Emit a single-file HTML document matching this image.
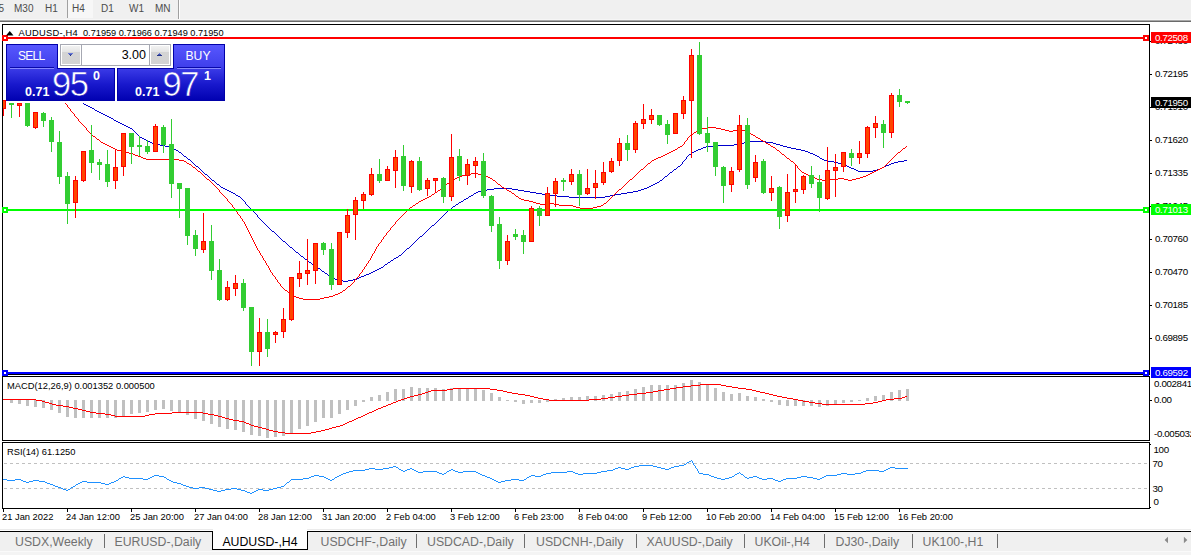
<!DOCTYPE html>
<html><head><meta charset="utf-8"><title>AUDUSD-,H4</title>
<style>
html,body{margin:0;padding:0;background:#fff;}
#root{position:relative;width:1191px;height:555px;overflow:hidden;background:#fff;font-family:"Liberation Sans",sans-serif;}
#root div{position:absolute;white-space:nowrap;}
.t{font-size:9.33px;line-height:11px;color:#000;}
.ax{font-size:9.75px;letter-spacing:-0.36px;}
.lab{left:1151px;width:40px;height:11px;font-size:9.75px;letter-spacing:-0.36px;line-height:11.4px;color:#fff;text-indent:4px;overflow:hidden;}
#tb{left:0;top:0;width:1191px;height:20px;background:#f0f0f0;}
.tf{font-size:10px;line-height:12px;top:2.5px;color:#4c4c4c;}
#tabbar{left:0;top:532px;width:1191px;height:23px;background:#f0f0f0;}
.tab{top:3px;font-size:12.3px;line-height:15px;color:#707070;}
.sep{top:2px;width:1px;height:14px;background:#6e6e6e;}
.pn{color:#fff;}
</style></head><body>
<div id="root">
<div id="tb">
 <div style="left:67px;top:0;width:25px;height:18px;background:#f7f7f7;border-left:1px solid #a0a0a0;"></div>
 <div class="tf" style="left:-1.5px">5</div>
 <div class="tf" style="left:14px">M30</div>
 <div class="tf" style="left:45px">H1</div>
 <div class="tf" style="left:72px">H4</div>
 <div class="tf" style="left:101px">D1</div>
 <div class="tf" style="left:129px">W1</div>
 <div class="tf" style="left:155px">MN</div>
 <div style="left:178px;top:0;width:1px;height:19px;background:#a0a0a0"></div>
 <div style="left:179px;top:0;width:1px;height:19px;background:#fff"></div>
</div>
<div style="left:0;top:19px;width:1191px;height:1px;background:#f6f6f6"></div>
<div style="left:0;top:20px;width:1191px;height:1px;background:#a8a8a8"></div>
<div style="left:0;top:21px;width:1191px;height:1px;background:#6a6a6a"></div>
<svg width="1191" height="555" viewBox="0 0 1191 555" style="position:absolute;left:0;top:0">
<defs><clipPath id="cp"><rect x="3" y="25" width="1146" height="349"/></clipPath></defs><g clip-path="url(#cp)">
<path d="M83 103.5h1M84 104.5h2M86 105.5h2M88 106.5h2M90 107.5h2M92 108.5h2M94 109.5h1M95 110.5h2M97 111.5h2M99 112.5h2M101 113.5h2M103 114.5h2M105 115.5h2M107 116.5h2M109 117.5h2M111 118.5h2M113 119.5h1M114 120.5h2M116 121.5h2M118 122.5h2M120 123.5h2M122 124.5h2M124 125.5h2M126 126.5h2M128 127.5h2M130 128.5h2M132 129.5h1M133 130.5h1M134 131.5h1M135 132.5h1M136 133.5h1M137 134.5h1M138 135.5h1M139 136.5h1M140 137.5h2M142 138.5h2M144 139.5h2M146 140.5h2M148 141.5h2M749 141.5h17M150 142.5h2M744 142.5h5M766 142.5h7M152 143.5h4M739 143.5h5M773 143.5h3M156 144.5h4M734 144.5h5M776 144.5h4M160 145.5h5M713 145.5h21M780 145.5h3M165 146.5h4M706 146.5h7M783 146.5h4M169 147.5h2M703 147.5h3M787 147.5h4M171 148.5h3M701 148.5h2M791 148.5h5M174 149.5h2M698 149.5h3M796 149.5h5M176 150.5h2M696 150.5h2M801 150.5h4M178 151.5h1M694 151.5h2M805 151.5h3M179 152.5h2M692 152.5h2M808 152.5h2M181 153.5h1M691 153.5h1M810 153.5h3M182 154.5h1M689 154.5h2M813 154.5h2M183 155.5h1M688 155.5h1M815 155.5h2M184 156.5h2M687 156.5h1M817 156.5h2M186 157.5h1M686 157.5h1M819 157.5h1M187 158.5h1M686 158.5h1M820 158.5h2M188 159.5h2M685 159.5h1M822 159.5h2M190 160.5h1M684 160.5h1M824 160.5h4M904 160.5h3M191 161.5h1M683 161.5h1M828 161.5h6M898 161.5h6M192 162.5h1M682 162.5h1M834 162.5h4M894 162.5h4M193 163.5h1M682 163.5h1M838 163.5h4M891 163.5h3M194 164.5h1M681 164.5h1M842 164.5h3M889 164.5h2M195 165.5h1M680 165.5h1M845 165.5h2M886 165.5h3M196 166.5h2M678 166.5h2M847 166.5h2M884 166.5h2M198 167.5h1M677 167.5h1M849 167.5h2M882 167.5h2M199 168.5h1M676 168.5h1M851 168.5h3M880 168.5h2M200 169.5h1M674 169.5h2M854 169.5h2M877 169.5h3M201 170.5h1M673 170.5h1M856 170.5h2M873 170.5h4M202 171.5h1M672 171.5h1M858 171.5h15M203 172.5h1M670 172.5h2M204 173.5h1M669 173.5h1M205 174.5h2M668 174.5h1M207 175.5h1M667 175.5h1M208 176.5h1M665 176.5h2M209 177.5h1M664 177.5h1M210 178.5h1M663 178.5h1M211 179.5h1M662 179.5h1M212 180.5h2M660 180.5h2M214 181.5h1M659 181.5h1M215 182.5h1M657 182.5h2M216 183.5h1M655 183.5h2M217 184.5h2M653 184.5h2M219 185.5h1M651 185.5h2M220 186.5h1M649 186.5h2M221 187.5h2M647 187.5h2M223 188.5h2M494 188.5h18M644 188.5h3M225 189.5h2M487 189.5h7M512 189.5h6M641 189.5h3M227 190.5h2M481 190.5h6M518 190.5h6M638 190.5h3M229 191.5h2M478 191.5h3M524 191.5h6M633 191.5h5M231 192.5h2M476 192.5h2M530 192.5h6M627 192.5h6M233 193.5h2M474 193.5h2M536 193.5h6M621 193.5h6M235 194.5h1M473 194.5h1M542 194.5h7M615 194.5h6M236 195.5h2M471 195.5h2M549 195.5h8M610 195.5h5M238 196.5h2M469 196.5h2M557 196.5h12M605 196.5h5M240 197.5h1M468 197.5h1M569 197.5h36M241 198.5h1M466 198.5h2M242 199.5h1M464 199.5h2M243 200.5h1M463 200.5h1M244 201.5h1M461 201.5h2M245 202.5h1M459 202.5h2M245 203.5h1M458 203.5h1M246 204.5h1M456 204.5h2M247 205.5h1M455 205.5h1M248 206.5h1M453 206.5h2M249 207.5h1M452 207.5h1M250 208.5h1M451 208.5h1M251 209.5h1M449 209.5h2M252 210.5h1M448 210.5h1M253 211.5h1M447 211.5h1M254 212.5h1M446 212.5h1M255 213.5h1M445 213.5h1M256 214.5h1M444 214.5h1M257 215.5h1M443 215.5h1M257 216.5h1M442 216.5h1M258 217.5h1M441 217.5h1M259 218.5h1M440 218.5h1M260 219.5h1M439 219.5h1M261 220.5h1M438 220.5h1M262 221.5h1M437 221.5h1M263 222.5h1M436 222.5h1M264 223.5h1M435 223.5h1M265 224.5h1M434 224.5h1M266 225.5h1M432 225.5h2M267 226.5h1M431 226.5h1M268 227.5h1M430 227.5h1M269 228.5h1M429 228.5h1M270 229.5h1M428 229.5h1M271 230.5h1M427 230.5h1M272 231.5h2M426 231.5h1M274 232.5h1M425 232.5h1M275 233.5h1M424 233.5h1M276 234.5h1M423 234.5h1M277 235.5h1M422 235.5h1M278 236.5h1M420 236.5h2M279 237.5h1M419 237.5h1M280 238.5h1M418 238.5h1M281 239.5h1M417 239.5h1M282 240.5h1M416 240.5h1M283 241.5h2M415 241.5h1M285 242.5h1M414 242.5h1M286 243.5h1M413 243.5h1M287 244.5h1M412 244.5h1M288 245.5h1M411 245.5h1M289 246.5h1M410 246.5h1M290 247.5h2M409 247.5h1M292 248.5h1M407 248.5h2M293 249.5h1M406 249.5h1M294 250.5h1M405 250.5h1M295 251.5h1M404 251.5h1M296 252.5h2M403 252.5h1M298 253.5h1M402 253.5h1M299 254.5h1M401 254.5h1M300 255.5h1M399 255.5h2M301 256.5h2M398 256.5h1M303 257.5h1M396 257.5h2M304 258.5h1M394 258.5h2M305 259.5h2M393 259.5h1M307 260.5h1M391 260.5h2M308 261.5h1M390 261.5h1M309 262.5h2M388 262.5h2M311 263.5h1M387 263.5h1M312 264.5h2M385 264.5h2M314 265.5h1M384 265.5h1M315 266.5h2M383 266.5h1M317 267.5h1M381 267.5h2M318 268.5h2M379 268.5h2M320 269.5h1M377 269.5h2M321 270.5h1M375 270.5h2M322 271.5h2M373 271.5h2M324 272.5h1M371 272.5h2M325 273.5h2M369 273.5h2M327 274.5h1M366 274.5h3M328 275.5h2M364 275.5h2M330 276.5h1M361 276.5h3M331 277.5h2M359 277.5h2M333 278.5h2M357 278.5h2M335 279.5h3M353 279.5h4M338 280.5h5M348 280.5h5M343 281.5h5" fill="none" stroke="#0000cd" stroke-width="1" shape-rendering="crispEdges"/>
<path d="M65 103.5h1M66 104.5h1M67 105.5h1M67 106.5h1M68 107.5h1M69 108.5h1M70 109.5h1M70 110.5h1M71 111.5h1M72 112.5h1M73 113.5h1M74 114.5h1M74 115.5h1M75 116.5h1M76 117.5h1M77 118.5h1M78 119.5h1M78 120.5h1M79 121.5h1M80 122.5h1M81 123.5h1M82 124.5h1M83 125.5h1M84 126.5h1M85 127.5h1M708 127.5h8M86 128.5h1M702 128.5h6M716 128.5h5M86 129.5h1M700 129.5h2M721 129.5h4M737 129.5h4M87 130.5h1M698 130.5h2M725 130.5h4M733 130.5h4M741 130.5h4M88 131.5h1M696 131.5h2M729 131.5h4M745 131.5h3M89 132.5h1M694 132.5h2M748 132.5h2M90 133.5h1M693 133.5h1M750 133.5h1M91 134.5h1M691 134.5h2M751 134.5h2M92 135.5h1M690 135.5h1M753 135.5h2M93 136.5h2M689 136.5h1M755 136.5h1M95 137.5h1M688 137.5h1M756 137.5h2M96 138.5h1M687 138.5h1M758 138.5h2M97 139.5h2M687 139.5h1M760 139.5h1M99 140.5h1M686 140.5h1M761 140.5h2M100 141.5h1M685 141.5h1M763 141.5h2M101 142.5h2M684 142.5h1M765 142.5h1M103 143.5h2M684 143.5h1M766 143.5h2M105 144.5h2M683 144.5h1M768 144.5h2M107 145.5h2M682 145.5h1M770 145.5h1M109 146.5h2M680 146.5h2M771 146.5h2M906 146.5h1M111 147.5h2M678 147.5h2M773 147.5h2M905 147.5h1M113 148.5h2M677 148.5h1M775 148.5h1M903 148.5h2M115 149.5h2M675 149.5h2M776 149.5h1M902 149.5h1M117 150.5h4M673 150.5h2M777 150.5h2M901 150.5h1M121 151.5h4M671 151.5h2M779 151.5h1M900 151.5h1M125 152.5h4M669 152.5h2M780 152.5h1M898 152.5h2M129 153.5h4M667 153.5h2M781 153.5h1M897 153.5h1M133 154.5h2M665 154.5h2M782 154.5h2M896 154.5h1M135 155.5h3M663 155.5h2M784 155.5h1M895 155.5h1M138 156.5h3M661 156.5h2M785 156.5h1M894 156.5h1M141 157.5h2M658 157.5h3M786 157.5h1M893 157.5h1M143 158.5h3M656 158.5h2M787 158.5h2M892 158.5h1M146 159.5h33M654 159.5h2M789 159.5h1M891 159.5h1M179 160.5h5M652 160.5h2M790 160.5h1M890 160.5h1M184 161.5h2M651 161.5h1M791 161.5h2M889 161.5h1M186 162.5h1M650 162.5h1M793 162.5h1M888 162.5h1M187 163.5h2M648 163.5h2M794 163.5h1M887 163.5h1M189 164.5h2M647 164.5h1M795 164.5h1M886 164.5h1M191 165.5h1M646 165.5h1M796 165.5h1M885 165.5h1M192 166.5h1M645 166.5h1M797 166.5h1M884 166.5h1M193 167.5h2M644 167.5h1M797 167.5h1M882 167.5h2M195 168.5h1M643 168.5h1M798 168.5h1M880 168.5h2M196 169.5h1M641 169.5h2M799 169.5h1M878 169.5h2M197 170.5h1M640 170.5h1M800 170.5h1M876 170.5h2M198 171.5h2M639 171.5h1M801 171.5h1M874 171.5h2M200 172.5h1M638 172.5h1M802 172.5h2M872 172.5h2M201 173.5h1M471 173.5h7M637 173.5h1M804 173.5h2M870 173.5h2M202 174.5h1M466 174.5h5M478 174.5h6M636 174.5h1M806 174.5h2M868 174.5h2M203 175.5h1M462 175.5h4M484 175.5h2M635 175.5h1M808 175.5h3M866 175.5h2M204 176.5h1M459 176.5h3M486 176.5h2M634 176.5h1M811 176.5h2M863 176.5h3M205 177.5h1M457 177.5h2M488 177.5h2M633 177.5h1M813 177.5h2M860 177.5h3M206 178.5h1M455 178.5h2M490 178.5h2M632 178.5h1M815 178.5h2M838 178.5h6M856 178.5h4M207 179.5h2M453 179.5h2M492 179.5h1M630 179.5h2M817 179.5h5M830 179.5h8M844 179.5h4M852 179.5h4M209 180.5h1M451 180.5h2M493 180.5h2M629 180.5h1M822 180.5h8M848 180.5h4M210 181.5h1M450 181.5h1M495 181.5h1M628 181.5h1M211 182.5h1M449 182.5h1M496 182.5h1M627 182.5h1M212 183.5h1M447 183.5h2M497 183.5h1M626 183.5h1M213 184.5h1M446 184.5h1M498 184.5h2M625 184.5h1M214 185.5h1M445 185.5h1M500 185.5h1M624 185.5h1M215 186.5h1M444 186.5h1M501 186.5h1M623 186.5h1M216 187.5h1M442 187.5h2M502 187.5h2M622 187.5h1M217 188.5h1M441 188.5h1M504 188.5h2M621 188.5h1M218 189.5h1M440 189.5h1M506 189.5h1M619 189.5h2M219 190.5h1M438 190.5h2M507 190.5h2M618 190.5h1M219 191.5h1M437 191.5h1M509 191.5h2M617 191.5h1M220 192.5h1M435 192.5h2M511 192.5h1M616 192.5h1M221 193.5h1M434 193.5h1M512 193.5h2M615 193.5h1M222 194.5h1M432 194.5h2M514 194.5h1M614 194.5h1M223 195.5h1M431 195.5h1M515 195.5h1M613 195.5h1M224 196.5h1M429 196.5h2M516 196.5h2M612 196.5h1M225 197.5h1M427 197.5h2M518 197.5h1M611 197.5h1M226 198.5h1M425 198.5h2M519 198.5h2M610 198.5h1M227 199.5h1M423 199.5h2M521 199.5h3M609 199.5h1M227 200.5h1M421 200.5h2M524 200.5h5M608 200.5h1M228 201.5h1M419 201.5h2M529 201.5h4M607 201.5h1M229 202.5h1M418 202.5h1M533 202.5h3M606 202.5h1M230 203.5h1M416 203.5h2M536 203.5h4M546 203.5h8M604 203.5h2M231 204.5h1M415 204.5h1M540 204.5h6M554 204.5h5M603 204.5h1M232 205.5h1M413 205.5h2M559 205.5h14M601 205.5h2M232 206.5h1M412 206.5h1M573 206.5h3M597 206.5h4M233 207.5h1M410 207.5h2M576 207.5h4M593 207.5h4M234 208.5h1M409 208.5h1M580 208.5h13M235 209.5h1M408 209.5h1M235 210.5h1M407 210.5h1M236 211.5h1M406 211.5h1M237 212.5h1M405 212.5h1M237 213.5h1M404 213.5h1M238 214.5h1M403 214.5h1M239 215.5h1M402 215.5h1M240 216.5h1M401 216.5h1M240 217.5h1M400 217.5h1M241 218.5h1M399 218.5h1M242 219.5h1M398 219.5h1M242 220.5h1M397 220.5h1M243 221.5h1M396 221.5h1M244 222.5h1M395 222.5h1M244 223.5h1M395 223.5h1M245 224.5h1M394 224.5h1M245 225.5h1M393 225.5h1M246 226.5h1M392 226.5h1M246 227.5h1M391 227.5h1M247 228.5h1M390 228.5h1M247 229.5h1M390 229.5h1M248 230.5h1M389 230.5h1M248 231.5h1M388 231.5h1M249 232.5h1M387 232.5h1M249 233.5h1M386 233.5h1M250 234.5h1M386 234.5h1M250 235.5h1M385 235.5h1M251 236.5h1M384 236.5h1M251 237.5h1M383 237.5h1M252 238.5h1M383 238.5h1M252 239.5h1M382 239.5h1M253 240.5h1M381 240.5h1M253 241.5h1M381 241.5h1M254 242.5h1M380 242.5h1M254 243.5h1M379 243.5h1M255 244.5h1M378 244.5h1M255 245.5h1M378 245.5h1M256 246.5h1M377 246.5h1M256 247.5h1M376 247.5h1M257 248.5h1M376 248.5h1M257 249.5h1M375 249.5h1M258 250.5h1M375 250.5h1M259 251.5h1M374 251.5h1M259 252.5h1M374 252.5h1M260 253.5h1M373 253.5h1M260 254.5h1M372 254.5h1M261 255.5h1M372 255.5h1M262 256.5h1M371 256.5h1M262 257.5h1M371 257.5h1M263 258.5h1M370 258.5h1M263 259.5h1M370 259.5h1M264 260.5h1M369 260.5h1M265 261.5h1M368 261.5h1M265 262.5h1M368 262.5h1M266 263.5h1M367 263.5h1M266 264.5h1M366 264.5h1M267 265.5h1M366 265.5h1M268 266.5h1M365 266.5h1M268 267.5h1M364 267.5h1M269 268.5h1M364 268.5h1M269 269.5h1M363 269.5h1M270 270.5h1M362 270.5h1M270 271.5h1M362 271.5h1M271 272.5h1M361 272.5h1M272 273.5h1M360 273.5h1M272 274.5h1M359 274.5h1M273 275.5h1M359 275.5h1M274 276.5h1M358 276.5h1M275 277.5h1M357 277.5h1M275 278.5h1M356 278.5h1M276 279.5h1M355 279.5h1M277 280.5h1M354 280.5h1M277 281.5h1M354 281.5h1M278 282.5h1M353 282.5h1M279 283.5h1M352 283.5h1M280 284.5h1M351 284.5h1M280 285.5h1M350 285.5h1M281 286.5h1M348 286.5h2M282 287.5h1M347 287.5h1M283 288.5h1M346 288.5h1M284 289.5h1M345 289.5h1M285 290.5h2M343 290.5h2M287 291.5h1M342 291.5h1M288 292.5h1M340 292.5h2M289 293.5h1M338 293.5h2M290 294.5h2M335 294.5h3M292 295.5h2M333 295.5h2M294 296.5h2M329 296.5h4M296 297.5h3M324 297.5h5M299 298.5h4M320 298.5h4M303 299.5h17" fill="none" stroke="#ff0000" stroke-width="1" shape-rendering="crispEdges"/>
<g shape-rendering="crispEdges">
<rect x="3" y="37" width="1146" height="2" fill="#ff0000"/>
<rect x="3" y="209" width="1146" height="2" fill="#00ff00"/>
<rect x="3" y="372" width="1146" height="2" fill="#0000ff"/>
<rect x="3" y="100" width="1" height="16" fill="#ff0000"/>
<rect x="1" y="100" width="5" height="9" fill="#ff0000"/>
<rect x="2" y="101" width="3" height="7" fill="#ff4500"/>
<rect x="11" y="103" width="1" height="15" fill="#32cd32"/>
<rect x="9" y="103" width="5" height="2" fill="#32cd32"/>
<rect x="19" y="103" width="1" height="14" fill="#ff0000"/>
<rect x="17" y="103" width="5" height="3" fill="#ff0000"/>
<rect x="18" y="104" width="3" height="1" fill="#ff4500"/>
<rect x="27" y="103" width="1" height="24" fill="#32cd32"/>
<rect x="25" y="103" width="5" height="23" fill="#32cd32"/>
<rect x="35" y="112" width="1" height="17" fill="#ff0000"/>
<rect x="33" y="112" width="5" height="16" fill="#ff0000"/>
<rect x="34" y="113" width="3" height="14" fill="#ff4500"/>
<rect x="43" y="112" width="1" height="15" fill="#32cd32"/>
<rect x="41" y="113" width="5" height="8" fill="#32cd32"/>
<rect x="51" y="117" width="1" height="35" fill="#32cd32"/>
<rect x="49" y="120" width="5" height="22" fill="#32cd32"/>
<rect x="59" y="131" width="1" height="53" fill="#32cd32"/>
<rect x="57" y="142" width="5" height="35" fill="#32cd32"/>
<rect x="67" y="172" width="1" height="52" fill="#32cd32"/>
<rect x="65" y="176" width="5" height="28" fill="#32cd32"/>
<rect x="75" y="176" width="1" height="42" fill="#ff0000"/>
<rect x="73" y="180" width="5" height="23" fill="#ff0000"/>
<rect x="74" y="181" width="3" height="21" fill="#ff4500"/>
<rect x="83" y="151" width="1" height="31" fill="#ff0000"/>
<rect x="81" y="151" width="5" height="30" fill="#ff0000"/>
<rect x="82" y="152" width="3" height="28" fill="#ff4500"/>
<rect x="91" y="125" width="1" height="48" fill="#32cd32"/>
<rect x="89" y="150" width="5" height="13" fill="#32cd32"/>
<rect x="99" y="159" width="1" height="21" fill="#32cd32"/>
<rect x="97" y="162" width="5" height="3" fill="#32cd32"/>
<rect x="107" y="150" width="1" height="37" fill="#32cd32"/>
<rect x="105" y="164" width="5" height="18" fill="#32cd32"/>
<rect x="115" y="149" width="1" height="40" fill="#ff0000"/>
<rect x="113" y="167" width="5" height="14" fill="#ff0000"/>
<rect x="114" y="168" width="3" height="12" fill="#ff4500"/>
<rect x="123" y="133" width="1" height="43" fill="#ff0000"/>
<rect x="121" y="133" width="5" height="34" fill="#ff0000"/>
<rect x="122" y="134" width="3" height="32" fill="#ff4500"/>
<rect x="131" y="133" width="1" height="31" fill="#32cd32"/>
<rect x="129" y="133" width="5" height="14" fill="#32cd32"/>
<rect x="139" y="136" width="1" height="20" fill="#32cd32"/>
<rect x="137" y="145" width="5" height="2" fill="#32cd32"/>
<rect x="147" y="140" width="1" height="14" fill="#32cd32"/>
<rect x="145" y="146" width="5" height="6" fill="#32cd32"/>
<rect x="155" y="124" width="1" height="28" fill="#ff0000"/>
<rect x="153" y="126" width="5" height="26" fill="#ff0000"/>
<rect x="154" y="127" width="3" height="24" fill="#ff4500"/>
<rect x="163" y="125" width="1" height="28" fill="#32cd32"/>
<rect x="161" y="127" width="5" height="18" fill="#32cd32"/>
<rect x="171" y="119" width="1" height="79" fill="#32cd32"/>
<rect x="169" y="144" width="5" height="40" fill="#32cd32"/>
<rect x="179" y="183" width="1" height="35" fill="#32cd32"/>
<rect x="177" y="183" width="5" height="6" fill="#32cd32"/>
<rect x="187" y="188" width="1" height="57" fill="#32cd32"/>
<rect x="185" y="188" width="5" height="48" fill="#32cd32"/>
<rect x="195" y="230" width="1" height="26" fill="#32cd32"/>
<rect x="193" y="235" width="5" height="14" fill="#32cd32"/>
<rect x="203" y="213" width="1" height="40" fill="#ff0000"/>
<rect x="201" y="241" width="5" height="9" fill="#ff0000"/>
<rect x="202" y="242" width="3" height="7" fill="#ff4500"/>
<rect x="211" y="225" width="1" height="55" fill="#32cd32"/>
<rect x="209" y="241" width="5" height="30" fill="#32cd32"/>
<rect x="219" y="259" width="1" height="42" fill="#32cd32"/>
<rect x="217" y="270" width="5" height="30" fill="#32cd32"/>
<rect x="227" y="281" width="1" height="20" fill="#ff0000"/>
<rect x="225" y="287" width="5" height="13" fill="#ff0000"/>
<rect x="226" y="288" width="3" height="11" fill="#ff4500"/>
<rect x="235" y="275" width="1" height="21" fill="#ff0000"/>
<rect x="233" y="283" width="5" height="6" fill="#ff0000"/>
<rect x="234" y="284" width="3" height="4" fill="#ff4500"/>
<rect x="243" y="279" width="1" height="32" fill="#32cd32"/>
<rect x="241" y="283" width="5" height="25" fill="#32cd32"/>
<rect x="251" y="307" width="1" height="59" fill="#32cd32"/>
<rect x="249" y="307" width="5" height="45" fill="#32cd32"/>
<rect x="259" y="318" width="1" height="48" fill="#ff0000"/>
<rect x="257" y="332" width="5" height="20" fill="#ff0000"/>
<rect x="258" y="333" width="3" height="18" fill="#ff4500"/>
<rect x="267" y="319" width="1" height="38" fill="#32cd32"/>
<rect x="265" y="332" width="5" height="17" fill="#32cd32"/>
<rect x="275" y="331" width="1" height="12" fill="#ff0000"/>
<rect x="273" y="332" width="5" height="3" fill="#ff0000"/>
<rect x="274" y="333" width="3" height="1" fill="#ff4500"/>
<rect x="283" y="308" width="1" height="30" fill="#ff0000"/>
<rect x="281" y="319" width="5" height="13" fill="#ff0000"/>
<rect x="282" y="320" width="3" height="11" fill="#ff4500"/>
<rect x="291" y="277" width="1" height="44" fill="#ff0000"/>
<rect x="289" y="277" width="5" height="43" fill="#ff0000"/>
<rect x="290" y="278" width="3" height="41" fill="#ff4500"/>
<rect x="299" y="261" width="1" height="26" fill="#ff0000"/>
<rect x="297" y="273" width="5" height="6" fill="#ff0000"/>
<rect x="298" y="274" width="3" height="4" fill="#ff4500"/>
<rect x="307" y="239" width="1" height="46" fill="#ff0000"/>
<rect x="305" y="270" width="5" height="4" fill="#ff0000"/>
<rect x="306" y="271" width="3" height="2" fill="#ff4500"/>
<rect x="315" y="243" width="1" height="41" fill="#ff0000"/>
<rect x="313" y="243" width="5" height="28" fill="#ff0000"/>
<rect x="314" y="244" width="3" height="26" fill="#ff4500"/>
<rect x="323" y="242" width="1" height="13" fill="#32cd32"/>
<rect x="321" y="243" width="5" height="7" fill="#32cd32"/>
<rect x="331" y="243" width="1" height="47" fill="#32cd32"/>
<rect x="329" y="249" width="5" height="36" fill="#32cd32"/>
<rect x="339" y="232" width="1" height="53" fill="#ff0000"/>
<rect x="337" y="232" width="5" height="53" fill="#ff0000"/>
<rect x="338" y="233" width="3" height="51" fill="#ff4500"/>
<rect x="347" y="209" width="1" height="29" fill="#ff0000"/>
<rect x="345" y="215" width="5" height="18" fill="#ff0000"/>
<rect x="346" y="216" width="3" height="16" fill="#ff4500"/>
<rect x="355" y="197" width="1" height="43" fill="#ff0000"/>
<rect x="353" y="200" width="5" height="15" fill="#ff0000"/>
<rect x="354" y="201" width="3" height="13" fill="#ff4500"/>
<rect x="363" y="192" width="1" height="17" fill="#ff0000"/>
<rect x="361" y="194" width="5" height="7" fill="#ff0000"/>
<rect x="362" y="195" width="3" height="5" fill="#ff4500"/>
<rect x="371" y="168" width="1" height="28" fill="#ff0000"/>
<rect x="369" y="174" width="5" height="21" fill="#ff0000"/>
<rect x="370" y="175" width="3" height="19" fill="#ff4500"/>
<rect x="379" y="159" width="1" height="24" fill="#32cd32"/>
<rect x="377" y="174" width="5" height="7" fill="#32cd32"/>
<rect x="387" y="166" width="1" height="15" fill="#ff0000"/>
<rect x="385" y="169" width="5" height="12" fill="#ff0000"/>
<rect x="386" y="170" width="3" height="10" fill="#ff4500"/>
<rect x="395" y="150" width="1" height="38" fill="#ff0000"/>
<rect x="393" y="157" width="5" height="14" fill="#ff0000"/>
<rect x="394" y="158" width="3" height="12" fill="#ff4500"/>
<rect x="403" y="145" width="1" height="46" fill="#32cd32"/>
<rect x="401" y="156" width="5" height="30" fill="#32cd32"/>
<rect x="411" y="160" width="1" height="33" fill="#ff0000"/>
<rect x="409" y="161" width="5" height="26" fill="#ff0000"/>
<rect x="410" y="162" width="3" height="24" fill="#ff4500"/>
<rect x="419" y="157" width="1" height="34" fill="#32cd32"/>
<rect x="417" y="161" width="5" height="29" fill="#32cd32"/>
<rect x="427" y="178" width="1" height="18" fill="#ff0000"/>
<rect x="425" y="180" width="5" height="9" fill="#ff0000"/>
<rect x="426" y="181" width="3" height="7" fill="#ff4500"/>
<rect x="435" y="178" width="1" height="15" fill="#ff0000"/>
<rect x="433" y="178" width="5" height="3" fill="#ff0000"/>
<rect x="434" y="179" width="3" height="1" fill="#ff4500"/>
<rect x="443" y="177" width="1" height="26" fill="#32cd32"/>
<rect x="441" y="178" width="5" height="19" fill="#32cd32"/>
<rect x="451" y="134" width="1" height="67" fill="#ff0000"/>
<rect x="449" y="157" width="5" height="40" fill="#ff0000"/>
<rect x="450" y="158" width="3" height="38" fill="#ff4500"/>
<rect x="459" y="149" width="1" height="32" fill="#32cd32"/>
<rect x="457" y="156" width="5" height="20" fill="#32cd32"/>
<rect x="467" y="159" width="1" height="26" fill="#ff0000"/>
<rect x="465" y="164" width="5" height="12" fill="#ff0000"/>
<rect x="466" y="165" width="3" height="10" fill="#ff4500"/>
<rect x="475" y="157" width="1" height="21" fill="#ff0000"/>
<rect x="473" y="161" width="5" height="5" fill="#ff0000"/>
<rect x="474" y="162" width="3" height="3" fill="#ff4500"/>
<rect x="483" y="153" width="1" height="45" fill="#32cd32"/>
<rect x="481" y="161" width="5" height="35" fill="#32cd32"/>
<rect x="491" y="195" width="1" height="37" fill="#32cd32"/>
<rect x="489" y="196" width="5" height="30" fill="#32cd32"/>
<rect x="499" y="217" width="1" height="52" fill="#32cd32"/>
<rect x="497" y="224" width="5" height="37" fill="#32cd32"/>
<rect x="507" y="235" width="1" height="30" fill="#ff0000"/>
<rect x="505" y="241" width="5" height="20" fill="#ff0000"/>
<rect x="506" y="242" width="3" height="18" fill="#ff4500"/>
<rect x="515" y="229" width="1" height="11" fill="#32cd32"/>
<rect x="513" y="234" width="5" height="3" fill="#32cd32"/>
<rect x="523" y="230" width="1" height="24" fill="#32cd32"/>
<rect x="521" y="235" width="5" height="7" fill="#32cd32"/>
<rect x="531" y="206" width="1" height="36" fill="#ff0000"/>
<rect x="529" y="208" width="5" height="34" fill="#ff0000"/>
<rect x="530" y="209" width="3" height="32" fill="#ff4500"/>
<rect x="539" y="206" width="1" height="20" fill="#32cd32"/>
<rect x="537" y="208" width="5" height="8" fill="#32cd32"/>
<rect x="547" y="187" width="1" height="29" fill="#ff0000"/>
<rect x="545" y="193" width="5" height="23" fill="#ff0000"/>
<rect x="546" y="194" width="3" height="21" fill="#ff4500"/>
<rect x="555" y="178" width="1" height="29" fill="#ff0000"/>
<rect x="553" y="181" width="5" height="13" fill="#ff0000"/>
<rect x="554" y="182" width="3" height="11" fill="#ff4500"/>
<rect x="563" y="178" width="1" height="13" fill="#32cd32"/>
<rect x="561" y="180" width="5" height="2" fill="#32cd32"/>
<rect x="571" y="169" width="1" height="16" fill="#ff0000"/>
<rect x="569" y="174" width="5" height="8" fill="#ff0000"/>
<rect x="570" y="175" width="3" height="6" fill="#ff4500"/>
<rect x="579" y="170" width="1" height="36" fill="#32cd32"/>
<rect x="577" y="174" width="5" height="21" fill="#32cd32"/>
<rect x="587" y="169" width="1" height="26" fill="#ff0000"/>
<rect x="585" y="188" width="5" height="6" fill="#ff0000"/>
<rect x="586" y="189" width="3" height="4" fill="#ff4500"/>
<rect x="595" y="170" width="1" height="29" fill="#ff0000"/>
<rect x="593" y="183" width="5" height="5" fill="#ff0000"/>
<rect x="594" y="184" width="3" height="3" fill="#ff4500"/>
<rect x="603" y="162" width="1" height="23" fill="#ff0000"/>
<rect x="601" y="172" width="5" height="11" fill="#ff0000"/>
<rect x="602" y="173" width="3" height="9" fill="#ff4500"/>
<rect x="611" y="158" width="1" height="15" fill="#ff0000"/>
<rect x="609" y="161" width="5" height="11" fill="#ff0000"/>
<rect x="610" y="162" width="3" height="9" fill="#ff4500"/>
<rect x="619" y="138" width="1" height="28" fill="#ff0000"/>
<rect x="617" y="143" width="5" height="18" fill="#ff0000"/>
<rect x="618" y="144" width="3" height="16" fill="#ff4500"/>
<rect x="627" y="135" width="1" height="26" fill="#32cd32"/>
<rect x="625" y="143" width="5" height="7" fill="#32cd32"/>
<rect x="635" y="121" width="1" height="32" fill="#ff0000"/>
<rect x="633" y="123" width="5" height="27" fill="#ff0000"/>
<rect x="634" y="124" width="3" height="25" fill="#ff4500"/>
<rect x="643" y="104" width="1" height="25" fill="#ff0000"/>
<rect x="641" y="119" width="5" height="5" fill="#ff0000"/>
<rect x="642" y="120" width="3" height="3" fill="#ff4500"/>
<rect x="651" y="109" width="1" height="15" fill="#ff0000"/>
<rect x="649" y="115" width="5" height="5" fill="#ff0000"/>
<rect x="650" y="116" width="3" height="3" fill="#ff4500"/>
<rect x="659" y="115" width="1" height="11" fill="#32cd32"/>
<rect x="657" y="115" width="5" height="10" fill="#32cd32"/>
<rect x="667" y="120" width="1" height="24" fill="#32cd32"/>
<rect x="665" y="124" width="5" height="11" fill="#32cd32"/>
<rect x="675" y="113" width="1" height="21" fill="#ff0000"/>
<rect x="673" y="113" width="5" height="21" fill="#ff0000"/>
<rect x="674" y="114" width="3" height="19" fill="#ff4500"/>
<rect x="683" y="96" width="1" height="23" fill="#ff0000"/>
<rect x="681" y="100" width="5" height="14" fill="#ff0000"/>
<rect x="682" y="101" width="3" height="12" fill="#ff4500"/>
<rect x="691" y="49" width="1" height="109" fill="#ff0000"/>
<rect x="689" y="55" width="5" height="46" fill="#ff0000"/>
<rect x="690" y="56" width="3" height="44" fill="#ff4500"/>
<rect x="699" y="42" width="1" height="93" fill="#32cd32"/>
<rect x="697" y="55" width="5" height="79" fill="#32cd32"/>
<rect x="707" y="117" width="1" height="35" fill="#32cd32"/>
<rect x="705" y="133" width="5" height="10" fill="#32cd32"/>
<rect x="715" y="142" width="1" height="34" fill="#32cd32"/>
<rect x="713" y="142" width="5" height="25" fill="#32cd32"/>
<rect x="723" y="166" width="1" height="37" fill="#32cd32"/>
<rect x="721" y="167" width="5" height="19" fill="#32cd32"/>
<rect x="731" y="167" width="1" height="25" fill="#ff0000"/>
<rect x="729" y="171" width="5" height="14" fill="#ff0000"/>
<rect x="730" y="172" width="3" height="12" fill="#ff4500"/>
<rect x="739" y="115" width="1" height="57" fill="#ff0000"/>
<rect x="737" y="125" width="5" height="45" fill="#ff0000"/>
<rect x="738" y="126" width="3" height="43" fill="#ff4500"/>
<rect x="747" y="118" width="1" height="71" fill="#32cd32"/>
<rect x="745" y="125" width="5" height="60" fill="#32cd32"/>
<rect x="755" y="155" width="1" height="27" fill="#ff0000"/>
<rect x="753" y="162" width="5" height="16" fill="#ff0000"/>
<rect x="754" y="163" width="3" height="14" fill="#ff4500"/>
<rect x="763" y="159" width="1" height="35" fill="#32cd32"/>
<rect x="761" y="161" width="5" height="32" fill="#32cd32"/>
<rect x="771" y="176" width="1" height="25" fill="#ff0000"/>
<rect x="769" y="188" width="5" height="5" fill="#ff0000"/>
<rect x="770" y="189" width="3" height="3" fill="#ff4500"/>
<rect x="779" y="186" width="1" height="43" fill="#32cd32"/>
<rect x="777" y="187" width="5" height="30" fill="#32cd32"/>
<rect x="787" y="174" width="1" height="48" fill="#ff0000"/>
<rect x="785" y="192" width="5" height="24" fill="#ff0000"/>
<rect x="786" y="193" width="3" height="22" fill="#ff4500"/>
<rect x="795" y="165" width="1" height="38" fill="#ff0000"/>
<rect x="793" y="189" width="5" height="3" fill="#ff0000"/>
<rect x="794" y="190" width="3" height="1" fill="#ff4500"/>
<rect x="803" y="175" width="1" height="19" fill="#ff0000"/>
<rect x="801" y="176" width="5" height="14" fill="#ff0000"/>
<rect x="802" y="177" width="3" height="12" fill="#ff4500"/>
<rect x="811" y="166" width="1" height="22" fill="#32cd32"/>
<rect x="809" y="175" width="5" height="9" fill="#32cd32"/>
<rect x="819" y="175" width="1" height="37" fill="#32cd32"/>
<rect x="817" y="182" width="5" height="16" fill="#32cd32"/>
<rect x="827" y="147" width="1" height="53" fill="#ff0000"/>
<rect x="825" y="170" width="5" height="29" fill="#ff0000"/>
<rect x="826" y="171" width="3" height="27" fill="#ff4500"/>
<rect x="835" y="154" width="1" height="43" fill="#ff0000"/>
<rect x="833" y="167" width="5" height="4" fill="#ff0000"/>
<rect x="834" y="168" width="3" height="2" fill="#ff4500"/>
<rect x="843" y="152" width="1" height="20" fill="#ff0000"/>
<rect x="841" y="152" width="5" height="15" fill="#ff0000"/>
<rect x="842" y="153" width="3" height="13" fill="#ff4500"/>
<rect x="851" y="149" width="1" height="17" fill="#32cd32"/>
<rect x="849" y="153" width="5" height="5" fill="#32cd32"/>
<rect x="859" y="141" width="1" height="23" fill="#ff0000"/>
<rect x="857" y="153" width="5" height="5" fill="#ff0000"/>
<rect x="858" y="154" width="3" height="3" fill="#ff4500"/>
<rect x="867" y="126" width="1" height="32" fill="#ff0000"/>
<rect x="865" y="127" width="5" height="27" fill="#ff0000"/>
<rect x="866" y="128" width="3" height="25" fill="#ff4500"/>
<rect x="875" y="116" width="1" height="22" fill="#ff0000"/>
<rect x="873" y="123" width="5" height="5" fill="#ff0000"/>
<rect x="874" y="124" width="3" height="3" fill="#ff4500"/>
<rect x="883" y="120" width="1" height="28" fill="#32cd32"/>
<rect x="881" y="124" width="5" height="9" fill="#32cd32"/>
<rect x="891" y="93" width="1" height="45" fill="#ff0000"/>
<rect x="889" y="95" width="5" height="38" fill="#ff0000"/>
<rect x="890" y="96" width="3" height="36" fill="#ff4500"/>
<rect x="899" y="89" width="1" height="18" fill="#32cd32"/>
<rect x="897" y="95" width="5" height="7" fill="#32cd32"/>
<rect x="907" y="101" width="1" height="3" fill="#32cd32"/>
<rect x="905" y="101" width="5" height="2" fill="#32cd32"/>
</g></g>
<g shape-rendering="crispEdges">
<rect x="10" y="400" width="3" height="3" fill="#c0c0c0"/>
<rect x="18" y="400" width="3" height="4" fill="#c0c0c0"/>
<rect x="26" y="400" width="3" height="6" fill="#c0c0c0"/>
<rect x="34" y="400" width="3" height="7" fill="#c0c0c0"/>
<rect x="42" y="400" width="3" height="8" fill="#c0c0c0"/>
<rect x="50" y="400" width="3" height="10" fill="#c0c0c0"/>
<rect x="58" y="400" width="3" height="13" fill="#c0c0c0"/>
<rect x="66" y="400" width="3" height="17" fill="#c0c0c0"/>
<rect x="74" y="400" width="3" height="18" fill="#c0c0c0"/>
<rect x="82" y="400" width="3" height="18" fill="#c0c0c0"/>
<rect x="90" y="400" width="3" height="18" fill="#c0c0c0"/>
<rect x="98" y="400" width="3" height="18" fill="#c0c0c0"/>
<rect x="106" y="400" width="3" height="18" fill="#c0c0c0"/>
<rect x="114" y="400" width="3" height="18" fill="#c0c0c0"/>
<rect x="122" y="400" width="3" height="17" fill="#c0c0c0"/>
<rect x="130" y="400" width="3" height="14" fill="#c0c0c0"/>
<rect x="138" y="400" width="3" height="13" fill="#c0c0c0"/>
<rect x="146" y="400" width="3" height="12" fill="#c0c0c0"/>
<rect x="154" y="400" width="3" height="10" fill="#c0c0c0"/>
<rect x="162" y="400" width="3" height="9" fill="#c0c0c0"/>
<rect x="170" y="400" width="3" height="11" fill="#c0c0c0"/>
<rect x="178" y="400" width="3" height="13" fill="#c0c0c0"/>
<rect x="186" y="400" width="3" height="15" fill="#c0c0c0"/>
<rect x="194" y="400" width="3" height="19" fill="#c0c0c0"/>
<rect x="202" y="400" width="3" height="21" fill="#c0c0c0"/>
<rect x="210" y="400" width="3" height="24" fill="#c0c0c0"/>
<rect x="218" y="400" width="3" height="27" fill="#c0c0c0"/>
<rect x="226" y="400" width="3" height="29" fill="#c0c0c0"/>
<rect x="234" y="400" width="3" height="30" fill="#c0c0c0"/>
<rect x="242" y="400" width="3" height="32" fill="#c0c0c0"/>
<rect x="250" y="400" width="3" height="35" fill="#c0c0c0"/>
<rect x="258" y="400" width="3" height="36" fill="#c0c0c0"/>
<rect x="266" y="400" width="3" height="38" fill="#c0c0c0"/>
<rect x="274" y="400" width="3" height="37" fill="#c0c0c0"/>
<rect x="282" y="400" width="3" height="36" fill="#c0c0c0"/>
<rect x="290" y="400" width="3" height="34" fill="#c0c0c0"/>
<rect x="298" y="400" width="3" height="29" fill="#c0c0c0"/>
<rect x="306" y="400" width="3" height="26" fill="#c0c0c0"/>
<rect x="314" y="400" width="3" height="22" fill="#c0c0c0"/>
<rect x="322" y="400" width="3" height="18" fill="#c0c0c0"/>
<rect x="330" y="400" width="3" height="18" fill="#c0c0c0"/>
<rect x="338" y="400" width="3" height="14" fill="#c0c0c0"/>
<rect x="346" y="400" width="3" height="10" fill="#c0c0c0"/>
<rect x="354" y="400" width="3" height="6" fill="#c0c0c0"/>
<rect x="362" y="400" width="3" height="2" fill="#c0c0c0"/>
<rect x="370" y="397" width="3" height="4" fill="#c0c0c0"/>
<rect x="378" y="395" width="3" height="6" fill="#c0c0c0"/>
<rect x="386" y="392" width="3" height="9" fill="#c0c0c0"/>
<rect x="394" y="389" width="3" height="12" fill="#c0c0c0"/>
<rect x="402" y="389" width="3" height="12" fill="#c0c0c0"/>
<rect x="410" y="387" width="3" height="14" fill="#c0c0c0"/>
<rect x="418" y="388" width="3" height="13" fill="#c0c0c0"/>
<rect x="426" y="388" width="3" height="13" fill="#c0c0c0"/>
<rect x="434" y="388" width="3" height="13" fill="#c0c0c0"/>
<rect x="442" y="389" width="3" height="12" fill="#c0c0c0"/>
<rect x="450" y="388" width="3" height="13" fill="#c0c0c0"/>
<rect x="458" y="389" width="3" height="12" fill="#c0c0c0"/>
<rect x="466" y="389" width="3" height="12" fill="#c0c0c0"/>
<rect x="474" y="389" width="3" height="12" fill="#c0c0c0"/>
<rect x="482" y="390" width="3" height="11" fill="#c0c0c0"/>
<rect x="490" y="393" width="3" height="8" fill="#c0c0c0"/>
<rect x="498" y="397" width="3" height="4" fill="#c0c0c0"/>
<rect x="506" y="400" width="3" height="1" fill="#c0c0c0"/>
<rect x="514" y="400" width="3" height="2" fill="#c0c0c0"/>
<rect x="522" y="400" width="3" height="4" fill="#c0c0c0"/>
<rect x="530" y="400" width="3" height="3" fill="#c0c0c0"/>
<rect x="538" y="400" width="3" height="3" fill="#c0c0c0"/>
<rect x="546" y="400" width="3" height="2" fill="#c0c0c0"/>
<rect x="554" y="399" width="3" height="2" fill="#c0c0c0"/>
<rect x="562" y="398" width="3" height="3" fill="#c0c0c0"/>
<rect x="570" y="397" width="3" height="4" fill="#c0c0c0"/>
<rect x="578" y="397" width="3" height="4" fill="#c0c0c0"/>
<rect x="586" y="396" width="3" height="5" fill="#c0c0c0"/>
<rect x="594" y="396" width="3" height="5" fill="#c0c0c0"/>
<rect x="602" y="395" width="3" height="6" fill="#c0c0c0"/>
<rect x="610" y="394" width="3" height="7" fill="#c0c0c0"/>
<rect x="618" y="392" width="3" height="9" fill="#c0c0c0"/>
<rect x="626" y="391" width="3" height="10" fill="#c0c0c0"/>
<rect x="634" y="389" width="3" height="12" fill="#c0c0c0"/>
<rect x="642" y="387" width="3" height="14" fill="#c0c0c0"/>
<rect x="650" y="385" width="3" height="16" fill="#c0c0c0"/>
<rect x="658" y="385" width="3" height="16" fill="#c0c0c0"/>
<rect x="666" y="385" width="3" height="16" fill="#c0c0c0"/>
<rect x="674" y="385" width="3" height="16" fill="#c0c0c0"/>
<rect x="682" y="383" width="3" height="18" fill="#c0c0c0"/>
<rect x="690" y="380" width="3" height="21" fill="#c0c0c0"/>
<rect x="698" y="382" width="3" height="19" fill="#c0c0c0"/>
<rect x="706" y="385" width="3" height="16" fill="#c0c0c0"/>
<rect x="714" y="388" width="3" height="13" fill="#c0c0c0"/>
<rect x="722" y="392" width="3" height="9" fill="#c0c0c0"/>
<rect x="730" y="394" width="3" height="7" fill="#c0c0c0"/>
<rect x="738" y="393" width="3" height="8" fill="#c0c0c0"/>
<rect x="746" y="396" width="3" height="5" fill="#c0c0c0"/>
<rect x="754" y="397" width="3" height="4" fill="#c0c0c0"/>
<rect x="762" y="399" width="3" height="2" fill="#c0c0c0"/>
<rect x="770" y="400" width="3" height="2" fill="#c0c0c0"/>
<rect x="778" y="400" width="3" height="5" fill="#c0c0c0"/>
<rect x="786" y="400" width="3" height="6" fill="#c0c0c0"/>
<rect x="794" y="400" width="3" height="6" fill="#c0c0c0"/>
<rect x="802" y="400" width="3" height="6" fill="#c0c0c0"/>
<rect x="810" y="400" width="3" height="6" fill="#c0c0c0"/>
<rect x="818" y="400" width="3" height="7" fill="#c0c0c0"/>
<rect x="826" y="400" width="3" height="6" fill="#c0c0c0"/>
<rect x="834" y="400" width="3" height="4" fill="#c0c0c0"/>
<rect x="842" y="400" width="3" height="3" fill="#c0c0c0"/>
<rect x="850" y="400" width="3" height="2" fill="#c0c0c0"/>
<rect x="858" y="400" width="3" height="1" fill="#c0c0c0"/>
<rect x="866" y="398" width="3" height="3" fill="#c0c0c0"/>
<rect x="874" y="396" width="3" height="5" fill="#c0c0c0"/>
<rect x="882" y="395" width="3" height="6" fill="#c0c0c0"/>
<rect x="890" y="392" width="3" height="9" fill="#c0c0c0"/>
<rect x="898" y="390" width="3" height="11" fill="#c0c0c0"/>
<rect x="906" y="389" width="3" height="12" fill="#c0c0c0"/>
</g>
<path d="M700 384.5h21M691 385.5h9M721 385.5h5M683 386.5h8M726 386.5h6M676 387.5h7M732 387.5h6M453 388.5h37M670 388.5h6M738 388.5h8M447 389.5h6M490 389.5h7M664 389.5h6M746 389.5h6M431 390.5h16M497 390.5h6M658 390.5h6M752 390.5h4M428 391.5h3M503 391.5h4M653 391.5h5M756 391.5h4M425 392.5h3M507 392.5h5M646 392.5h7M760 392.5h5M422 393.5h3M512 393.5h6M637 393.5h9M765 393.5h4M418 394.5h4M518 394.5h7M629 394.5h8M769 394.5h4M414 395.5h4M525 395.5h5M622 395.5h7M773 395.5h4M410 396.5h4M530 396.5h4M615 396.5h7M777 396.5h5M905 396.5h2M407 397.5h3M534 397.5h4M608 397.5h7M782 397.5h5M902 397.5h3M404 398.5h3M538 398.5h5M601 398.5h7M787 398.5h6M894 398.5h8M3 399.5h33M401 399.5h3M543 399.5h6M589 399.5h12M793 399.5h5M886 399.5h8M36 400.5h6M398 400.5h3M549 400.5h40M798 400.5h5M882 400.5h4M42 401.5h3M396 401.5h2M803 401.5h6M878 401.5h4M45 402.5h4M393 402.5h3M809 402.5h6M873 402.5h5M49 403.5h3M391 403.5h2M815 403.5h7M865 403.5h8M52 404.5h4M388 404.5h3M822 404.5h43M56 405.5h7M386 405.5h2M63 406.5h6M383 406.5h3M69 407.5h4M381 407.5h2M73 408.5h5M378 408.5h3M78 409.5h4M376 409.5h2M82 410.5h4M374 410.5h2M86 411.5h4M372 411.5h2M90 412.5h6M172 412.5h31M369 412.5h3M96 413.5h9M155 413.5h17M203 413.5h5M367 413.5h2M105 414.5h6M149 414.5h6M208 414.5h6M365 414.5h2M111 415.5h4M145 415.5h4M214 415.5h4M363 415.5h2M115 416.5h30M218 416.5h4M361 416.5h2M222 417.5h3M358 417.5h3M225 418.5h4M356 418.5h2M229 419.5h4M354 419.5h2M233 420.5h6M352 420.5h2M239 421.5h5M349 421.5h3M244 422.5h2M347 422.5h2M246 423.5h3M345 423.5h2M249 424.5h2M343 424.5h2M251 425.5h3M340 425.5h3M254 426.5h4M336 426.5h4M258 427.5h4M332 427.5h4M262 428.5h4M329 428.5h3M266 429.5h3M325 429.5h4M269 430.5h4M321 430.5h4M273 431.5h5M316 431.5h5M278 432.5h7M311 432.5h5M285 433.5h26" fill="none" stroke="#ff0000" stroke-width="1" shape-rendering="crispEdges"/>
<g shape-rendering="crispEdges">
<rect x="4" y="463" width="3" height="1" fill="#c0c0c0"/>
<rect x="10" y="463" width="3" height="1" fill="#c0c0c0"/>
<rect x="16" y="463" width="3" height="1" fill="#c0c0c0"/>
<rect x="22" y="463" width="3" height="1" fill="#c0c0c0"/>
<rect x="28" y="463" width="3" height="1" fill="#c0c0c0"/>
<rect x="34" y="463" width="3" height="1" fill="#c0c0c0"/>
<rect x="40" y="463" width="3" height="1" fill="#c0c0c0"/>
<rect x="46" y="463" width="3" height="1" fill="#c0c0c0"/>
<rect x="52" y="463" width="3" height="1" fill="#c0c0c0"/>
<rect x="58" y="463" width="3" height="1" fill="#c0c0c0"/>
<rect x="64" y="463" width="3" height="1" fill="#c0c0c0"/>
<rect x="70" y="463" width="3" height="1" fill="#c0c0c0"/>
<rect x="76" y="463" width="3" height="1" fill="#c0c0c0"/>
<rect x="82" y="463" width="3" height="1" fill="#c0c0c0"/>
<rect x="88" y="463" width="3" height="1" fill="#c0c0c0"/>
<rect x="94" y="463" width="3" height="1" fill="#c0c0c0"/>
<rect x="100" y="463" width="3" height="1" fill="#c0c0c0"/>
<rect x="106" y="463" width="3" height="1" fill="#c0c0c0"/>
<rect x="112" y="463" width="3" height="1" fill="#c0c0c0"/>
<rect x="118" y="463" width="3" height="1" fill="#c0c0c0"/>
<rect x="124" y="463" width="3" height="1" fill="#c0c0c0"/>
<rect x="130" y="463" width="3" height="1" fill="#c0c0c0"/>
<rect x="136" y="463" width="3" height="1" fill="#c0c0c0"/>
<rect x="142" y="463" width="3" height="1" fill="#c0c0c0"/>
<rect x="148" y="463" width="3" height="1" fill="#c0c0c0"/>
<rect x="154" y="463" width="3" height="1" fill="#c0c0c0"/>
<rect x="160" y="463" width="3" height="1" fill="#c0c0c0"/>
<rect x="166" y="463" width="3" height="1" fill="#c0c0c0"/>
<rect x="172" y="463" width="3" height="1" fill="#c0c0c0"/>
<rect x="178" y="463" width="3" height="1" fill="#c0c0c0"/>
<rect x="184" y="463" width="3" height="1" fill="#c0c0c0"/>
<rect x="190" y="463" width="3" height="1" fill="#c0c0c0"/>
<rect x="196" y="463" width="3" height="1" fill="#c0c0c0"/>
<rect x="202" y="463" width="3" height="1" fill="#c0c0c0"/>
<rect x="208" y="463" width="3" height="1" fill="#c0c0c0"/>
<rect x="214" y="463" width="3" height="1" fill="#c0c0c0"/>
<rect x="220" y="463" width="3" height="1" fill="#c0c0c0"/>
<rect x="226" y="463" width="3" height="1" fill="#c0c0c0"/>
<rect x="232" y="463" width="3" height="1" fill="#c0c0c0"/>
<rect x="238" y="463" width="3" height="1" fill="#c0c0c0"/>
<rect x="244" y="463" width="3" height="1" fill="#c0c0c0"/>
<rect x="250" y="463" width="3" height="1" fill="#c0c0c0"/>
<rect x="256" y="463" width="3" height="1" fill="#c0c0c0"/>
<rect x="262" y="463" width="3" height="1" fill="#c0c0c0"/>
<rect x="268" y="463" width="3" height="1" fill="#c0c0c0"/>
<rect x="274" y="463" width="3" height="1" fill="#c0c0c0"/>
<rect x="280" y="463" width="3" height="1" fill="#c0c0c0"/>
<rect x="286" y="463" width="3" height="1" fill="#c0c0c0"/>
<rect x="292" y="463" width="3" height="1" fill="#c0c0c0"/>
<rect x="298" y="463" width="3" height="1" fill="#c0c0c0"/>
<rect x="304" y="463" width="3" height="1" fill="#c0c0c0"/>
<rect x="310" y="463" width="3" height="1" fill="#c0c0c0"/>
<rect x="316" y="463" width="3" height="1" fill="#c0c0c0"/>
<rect x="322" y="463" width="3" height="1" fill="#c0c0c0"/>
<rect x="328" y="463" width="3" height="1" fill="#c0c0c0"/>
<rect x="334" y="463" width="3" height="1" fill="#c0c0c0"/>
<rect x="340" y="463" width="3" height="1" fill="#c0c0c0"/>
<rect x="346" y="463" width="3" height="1" fill="#c0c0c0"/>
<rect x="352" y="463" width="3" height="1" fill="#c0c0c0"/>
<rect x="358" y="463" width="3" height="1" fill="#c0c0c0"/>
<rect x="364" y="463" width="3" height="1" fill="#c0c0c0"/>
<rect x="370" y="463" width="3" height="1" fill="#c0c0c0"/>
<rect x="376" y="463" width="3" height="1" fill="#c0c0c0"/>
<rect x="382" y="463" width="3" height="1" fill="#c0c0c0"/>
<rect x="388" y="463" width="3" height="1" fill="#c0c0c0"/>
<rect x="394" y="463" width="3" height="1" fill="#c0c0c0"/>
<rect x="400" y="463" width="3" height="1" fill="#c0c0c0"/>
<rect x="406" y="463" width="3" height="1" fill="#c0c0c0"/>
<rect x="412" y="463" width="3" height="1" fill="#c0c0c0"/>
<rect x="418" y="463" width="3" height="1" fill="#c0c0c0"/>
<rect x="424" y="463" width="3" height="1" fill="#c0c0c0"/>
<rect x="430" y="463" width="3" height="1" fill="#c0c0c0"/>
<rect x="436" y="463" width="3" height="1" fill="#c0c0c0"/>
<rect x="442" y="463" width="3" height="1" fill="#c0c0c0"/>
<rect x="448" y="463" width="3" height="1" fill="#c0c0c0"/>
<rect x="454" y="463" width="3" height="1" fill="#c0c0c0"/>
<rect x="460" y="463" width="3" height="1" fill="#c0c0c0"/>
<rect x="466" y="463" width="3" height="1" fill="#c0c0c0"/>
<rect x="472" y="463" width="3" height="1" fill="#c0c0c0"/>
<rect x="478" y="463" width="3" height="1" fill="#c0c0c0"/>
<rect x="484" y="463" width="3" height="1" fill="#c0c0c0"/>
<rect x="490" y="463" width="3" height="1" fill="#c0c0c0"/>
<rect x="496" y="463" width="3" height="1" fill="#c0c0c0"/>
<rect x="502" y="463" width="3" height="1" fill="#c0c0c0"/>
<rect x="508" y="463" width="3" height="1" fill="#c0c0c0"/>
<rect x="514" y="463" width="3" height="1" fill="#c0c0c0"/>
<rect x="520" y="463" width="3" height="1" fill="#c0c0c0"/>
<rect x="526" y="463" width="3" height="1" fill="#c0c0c0"/>
<rect x="532" y="463" width="3" height="1" fill="#c0c0c0"/>
<rect x="538" y="463" width="3" height="1" fill="#c0c0c0"/>
<rect x="544" y="463" width="3" height="1" fill="#c0c0c0"/>
<rect x="550" y="463" width="3" height="1" fill="#c0c0c0"/>
<rect x="556" y="463" width="3" height="1" fill="#c0c0c0"/>
<rect x="562" y="463" width="3" height="1" fill="#c0c0c0"/>
<rect x="568" y="463" width="3" height="1" fill="#c0c0c0"/>
<rect x="574" y="463" width="3" height="1" fill="#c0c0c0"/>
<rect x="580" y="463" width="3" height="1" fill="#c0c0c0"/>
<rect x="586" y="463" width="3" height="1" fill="#c0c0c0"/>
<rect x="592" y="463" width="3" height="1" fill="#c0c0c0"/>
<rect x="598" y="463" width="3" height="1" fill="#c0c0c0"/>
<rect x="604" y="463" width="3" height="1" fill="#c0c0c0"/>
<rect x="610" y="463" width="3" height="1" fill="#c0c0c0"/>
<rect x="616" y="463" width="3" height="1" fill="#c0c0c0"/>
<rect x="622" y="463" width="3" height="1" fill="#c0c0c0"/>
<rect x="628" y="463" width="3" height="1" fill="#c0c0c0"/>
<rect x="634" y="463" width="3" height="1" fill="#c0c0c0"/>
<rect x="640" y="463" width="3" height="1" fill="#c0c0c0"/>
<rect x="646" y="463" width="3" height="1" fill="#c0c0c0"/>
<rect x="652" y="463" width="3" height="1" fill="#c0c0c0"/>
<rect x="658" y="463" width="3" height="1" fill="#c0c0c0"/>
<rect x="664" y="463" width="3" height="1" fill="#c0c0c0"/>
<rect x="670" y="463" width="3" height="1" fill="#c0c0c0"/>
<rect x="676" y="463" width="3" height="1" fill="#c0c0c0"/>
<rect x="682" y="463" width="3" height="1" fill="#c0c0c0"/>
<rect x="688" y="463" width="3" height="1" fill="#c0c0c0"/>
<rect x="694" y="463" width="3" height="1" fill="#c0c0c0"/>
<rect x="700" y="463" width="3" height="1" fill="#c0c0c0"/>
<rect x="706" y="463" width="3" height="1" fill="#c0c0c0"/>
<rect x="712" y="463" width="3" height="1" fill="#c0c0c0"/>
<rect x="718" y="463" width="3" height="1" fill="#c0c0c0"/>
<rect x="724" y="463" width="3" height="1" fill="#c0c0c0"/>
<rect x="730" y="463" width="3" height="1" fill="#c0c0c0"/>
<rect x="736" y="463" width="3" height="1" fill="#c0c0c0"/>
<rect x="742" y="463" width="3" height="1" fill="#c0c0c0"/>
<rect x="748" y="463" width="3" height="1" fill="#c0c0c0"/>
<rect x="754" y="463" width="3" height="1" fill="#c0c0c0"/>
<rect x="760" y="463" width="3" height="1" fill="#c0c0c0"/>
<rect x="766" y="463" width="3" height="1" fill="#c0c0c0"/>
<rect x="772" y="463" width="3" height="1" fill="#c0c0c0"/>
<rect x="778" y="463" width="3" height="1" fill="#c0c0c0"/>
<rect x="784" y="463" width="3" height="1" fill="#c0c0c0"/>
<rect x="790" y="463" width="3" height="1" fill="#c0c0c0"/>
<rect x="796" y="463" width="3" height="1" fill="#c0c0c0"/>
<rect x="802" y="463" width="3" height="1" fill="#c0c0c0"/>
<rect x="808" y="463" width="3" height="1" fill="#c0c0c0"/>
<rect x="814" y="463" width="3" height="1" fill="#c0c0c0"/>
<rect x="820" y="463" width="3" height="1" fill="#c0c0c0"/>
<rect x="826" y="463" width="3" height="1" fill="#c0c0c0"/>
<rect x="832" y="463" width="3" height="1" fill="#c0c0c0"/>
<rect x="838" y="463" width="3" height="1" fill="#c0c0c0"/>
<rect x="844" y="463" width="3" height="1" fill="#c0c0c0"/>
<rect x="850" y="463" width="3" height="1" fill="#c0c0c0"/>
<rect x="856" y="463" width="3" height="1" fill="#c0c0c0"/>
<rect x="862" y="463" width="3" height="1" fill="#c0c0c0"/>
<rect x="868" y="463" width="3" height="1" fill="#c0c0c0"/>
<rect x="874" y="463" width="3" height="1" fill="#c0c0c0"/>
<rect x="880" y="463" width="3" height="1" fill="#c0c0c0"/>
<rect x="886" y="463" width="3" height="1" fill="#c0c0c0"/>
<rect x="892" y="463" width="3" height="1" fill="#c0c0c0"/>
<rect x="898" y="463" width="3" height="1" fill="#c0c0c0"/>
<rect x="904" y="463" width="3" height="1" fill="#c0c0c0"/>
<rect x="910" y="463" width="3" height="1" fill="#c0c0c0"/>
<rect x="916" y="463" width="3" height="1" fill="#c0c0c0"/>
<rect x="922" y="463" width="3" height="1" fill="#c0c0c0"/>
<rect x="928" y="463" width="3" height="1" fill="#c0c0c0"/>
<rect x="934" y="463" width="3" height="1" fill="#c0c0c0"/>
<rect x="940" y="463" width="3" height="1" fill="#c0c0c0"/>
<rect x="946" y="463" width="3" height="1" fill="#c0c0c0"/>
<rect x="952" y="463" width="3" height="1" fill="#c0c0c0"/>
<rect x="958" y="463" width="3" height="1" fill="#c0c0c0"/>
<rect x="964" y="463" width="3" height="1" fill="#c0c0c0"/>
<rect x="970" y="463" width="3" height="1" fill="#c0c0c0"/>
<rect x="976" y="463" width="3" height="1" fill="#c0c0c0"/>
<rect x="982" y="463" width="3" height="1" fill="#c0c0c0"/>
<rect x="988" y="463" width="3" height="1" fill="#c0c0c0"/>
<rect x="994" y="463" width="3" height="1" fill="#c0c0c0"/>
<rect x="1000" y="463" width="3" height="1" fill="#c0c0c0"/>
<rect x="1006" y="463" width="3" height="1" fill="#c0c0c0"/>
<rect x="1012" y="463" width="3" height="1" fill="#c0c0c0"/>
<rect x="1018" y="463" width="3" height="1" fill="#c0c0c0"/>
<rect x="1024" y="463" width="3" height="1" fill="#c0c0c0"/>
<rect x="1030" y="463" width="3" height="1" fill="#c0c0c0"/>
<rect x="1036" y="463" width="3" height="1" fill="#c0c0c0"/>
<rect x="1042" y="463" width="3" height="1" fill="#c0c0c0"/>
<rect x="1048" y="463" width="3" height="1" fill="#c0c0c0"/>
<rect x="1054" y="463" width="3" height="1" fill="#c0c0c0"/>
<rect x="1060" y="463" width="3" height="1" fill="#c0c0c0"/>
<rect x="1066" y="463" width="3" height="1" fill="#c0c0c0"/>
<rect x="1072" y="463" width="3" height="1" fill="#c0c0c0"/>
<rect x="1078" y="463" width="3" height="1" fill="#c0c0c0"/>
<rect x="1084" y="463" width="3" height="1" fill="#c0c0c0"/>
<rect x="1090" y="463" width="3" height="1" fill="#c0c0c0"/>
<rect x="1096" y="463" width="3" height="1" fill="#c0c0c0"/>
<rect x="1102" y="463" width="3" height="1" fill="#c0c0c0"/>
<rect x="1108" y="463" width="3" height="1" fill="#c0c0c0"/>
<rect x="1114" y="463" width="3" height="1" fill="#c0c0c0"/>
<rect x="1120" y="463" width="3" height="1" fill="#c0c0c0"/>
<rect x="1126" y="463" width="3" height="1" fill="#c0c0c0"/>
<rect x="1132" y="463" width="3" height="1" fill="#c0c0c0"/>
<rect x="1138" y="463" width="3" height="1" fill="#c0c0c0"/>
<rect x="1144" y="463" width="3" height="1" fill="#c0c0c0"/>
<rect x="4" y="488" width="3" height="1" fill="#c0c0c0"/>
<rect x="10" y="488" width="3" height="1" fill="#c0c0c0"/>
<rect x="16" y="488" width="3" height="1" fill="#c0c0c0"/>
<rect x="22" y="488" width="3" height="1" fill="#c0c0c0"/>
<rect x="28" y="488" width="3" height="1" fill="#c0c0c0"/>
<rect x="34" y="488" width="3" height="1" fill="#c0c0c0"/>
<rect x="40" y="488" width="3" height="1" fill="#c0c0c0"/>
<rect x="46" y="488" width="3" height="1" fill="#c0c0c0"/>
<rect x="52" y="488" width="3" height="1" fill="#c0c0c0"/>
<rect x="58" y="488" width="3" height="1" fill="#c0c0c0"/>
<rect x="64" y="488" width="3" height="1" fill="#c0c0c0"/>
<rect x="70" y="488" width="3" height="1" fill="#c0c0c0"/>
<rect x="76" y="488" width="3" height="1" fill="#c0c0c0"/>
<rect x="82" y="488" width="3" height="1" fill="#c0c0c0"/>
<rect x="88" y="488" width="3" height="1" fill="#c0c0c0"/>
<rect x="94" y="488" width="3" height="1" fill="#c0c0c0"/>
<rect x="100" y="488" width="3" height="1" fill="#c0c0c0"/>
<rect x="106" y="488" width="3" height="1" fill="#c0c0c0"/>
<rect x="112" y="488" width="3" height="1" fill="#c0c0c0"/>
<rect x="118" y="488" width="3" height="1" fill="#c0c0c0"/>
<rect x="124" y="488" width="3" height="1" fill="#c0c0c0"/>
<rect x="130" y="488" width="3" height="1" fill="#c0c0c0"/>
<rect x="136" y="488" width="3" height="1" fill="#c0c0c0"/>
<rect x="142" y="488" width="3" height="1" fill="#c0c0c0"/>
<rect x="148" y="488" width="3" height="1" fill="#c0c0c0"/>
<rect x="154" y="488" width="3" height="1" fill="#c0c0c0"/>
<rect x="160" y="488" width="3" height="1" fill="#c0c0c0"/>
<rect x="166" y="488" width="3" height="1" fill="#c0c0c0"/>
<rect x="172" y="488" width="3" height="1" fill="#c0c0c0"/>
<rect x="178" y="488" width="3" height="1" fill="#c0c0c0"/>
<rect x="184" y="488" width="3" height="1" fill="#c0c0c0"/>
<rect x="190" y="488" width="3" height="1" fill="#c0c0c0"/>
<rect x="196" y="488" width="3" height="1" fill="#c0c0c0"/>
<rect x="202" y="488" width="3" height="1" fill="#c0c0c0"/>
<rect x="208" y="488" width="3" height="1" fill="#c0c0c0"/>
<rect x="214" y="488" width="3" height="1" fill="#c0c0c0"/>
<rect x="220" y="488" width="3" height="1" fill="#c0c0c0"/>
<rect x="226" y="488" width="3" height="1" fill="#c0c0c0"/>
<rect x="232" y="488" width="3" height="1" fill="#c0c0c0"/>
<rect x="238" y="488" width="3" height="1" fill="#c0c0c0"/>
<rect x="244" y="488" width="3" height="1" fill="#c0c0c0"/>
<rect x="250" y="488" width="3" height="1" fill="#c0c0c0"/>
<rect x="256" y="488" width="3" height="1" fill="#c0c0c0"/>
<rect x="262" y="488" width="3" height="1" fill="#c0c0c0"/>
<rect x="268" y="488" width="3" height="1" fill="#c0c0c0"/>
<rect x="274" y="488" width="3" height="1" fill="#c0c0c0"/>
<rect x="280" y="488" width="3" height="1" fill="#c0c0c0"/>
<rect x="286" y="488" width="3" height="1" fill="#c0c0c0"/>
<rect x="292" y="488" width="3" height="1" fill="#c0c0c0"/>
<rect x="298" y="488" width="3" height="1" fill="#c0c0c0"/>
<rect x="304" y="488" width="3" height="1" fill="#c0c0c0"/>
<rect x="310" y="488" width="3" height="1" fill="#c0c0c0"/>
<rect x="316" y="488" width="3" height="1" fill="#c0c0c0"/>
<rect x="322" y="488" width="3" height="1" fill="#c0c0c0"/>
<rect x="328" y="488" width="3" height="1" fill="#c0c0c0"/>
<rect x="334" y="488" width="3" height="1" fill="#c0c0c0"/>
<rect x="340" y="488" width="3" height="1" fill="#c0c0c0"/>
<rect x="346" y="488" width="3" height="1" fill="#c0c0c0"/>
<rect x="352" y="488" width="3" height="1" fill="#c0c0c0"/>
<rect x="358" y="488" width="3" height="1" fill="#c0c0c0"/>
<rect x="364" y="488" width="3" height="1" fill="#c0c0c0"/>
<rect x="370" y="488" width="3" height="1" fill="#c0c0c0"/>
<rect x="376" y="488" width="3" height="1" fill="#c0c0c0"/>
<rect x="382" y="488" width="3" height="1" fill="#c0c0c0"/>
<rect x="388" y="488" width="3" height="1" fill="#c0c0c0"/>
<rect x="394" y="488" width="3" height="1" fill="#c0c0c0"/>
<rect x="400" y="488" width="3" height="1" fill="#c0c0c0"/>
<rect x="406" y="488" width="3" height="1" fill="#c0c0c0"/>
<rect x="412" y="488" width="3" height="1" fill="#c0c0c0"/>
<rect x="418" y="488" width="3" height="1" fill="#c0c0c0"/>
<rect x="424" y="488" width="3" height="1" fill="#c0c0c0"/>
<rect x="430" y="488" width="3" height="1" fill="#c0c0c0"/>
<rect x="436" y="488" width="3" height="1" fill="#c0c0c0"/>
<rect x="442" y="488" width="3" height="1" fill="#c0c0c0"/>
<rect x="448" y="488" width="3" height="1" fill="#c0c0c0"/>
<rect x="454" y="488" width="3" height="1" fill="#c0c0c0"/>
<rect x="460" y="488" width="3" height="1" fill="#c0c0c0"/>
<rect x="466" y="488" width="3" height="1" fill="#c0c0c0"/>
<rect x="472" y="488" width="3" height="1" fill="#c0c0c0"/>
<rect x="478" y="488" width="3" height="1" fill="#c0c0c0"/>
<rect x="484" y="488" width="3" height="1" fill="#c0c0c0"/>
<rect x="490" y="488" width="3" height="1" fill="#c0c0c0"/>
<rect x="496" y="488" width="3" height="1" fill="#c0c0c0"/>
<rect x="502" y="488" width="3" height="1" fill="#c0c0c0"/>
<rect x="508" y="488" width="3" height="1" fill="#c0c0c0"/>
<rect x="514" y="488" width="3" height="1" fill="#c0c0c0"/>
<rect x="520" y="488" width="3" height="1" fill="#c0c0c0"/>
<rect x="526" y="488" width="3" height="1" fill="#c0c0c0"/>
<rect x="532" y="488" width="3" height="1" fill="#c0c0c0"/>
<rect x="538" y="488" width="3" height="1" fill="#c0c0c0"/>
<rect x="544" y="488" width="3" height="1" fill="#c0c0c0"/>
<rect x="550" y="488" width="3" height="1" fill="#c0c0c0"/>
<rect x="556" y="488" width="3" height="1" fill="#c0c0c0"/>
<rect x="562" y="488" width="3" height="1" fill="#c0c0c0"/>
<rect x="568" y="488" width="3" height="1" fill="#c0c0c0"/>
<rect x="574" y="488" width="3" height="1" fill="#c0c0c0"/>
<rect x="580" y="488" width="3" height="1" fill="#c0c0c0"/>
<rect x="586" y="488" width="3" height="1" fill="#c0c0c0"/>
<rect x="592" y="488" width="3" height="1" fill="#c0c0c0"/>
<rect x="598" y="488" width="3" height="1" fill="#c0c0c0"/>
<rect x="604" y="488" width="3" height="1" fill="#c0c0c0"/>
<rect x="610" y="488" width="3" height="1" fill="#c0c0c0"/>
<rect x="616" y="488" width="3" height="1" fill="#c0c0c0"/>
<rect x="622" y="488" width="3" height="1" fill="#c0c0c0"/>
<rect x="628" y="488" width="3" height="1" fill="#c0c0c0"/>
<rect x="634" y="488" width="3" height="1" fill="#c0c0c0"/>
<rect x="640" y="488" width="3" height="1" fill="#c0c0c0"/>
<rect x="646" y="488" width="3" height="1" fill="#c0c0c0"/>
<rect x="652" y="488" width="3" height="1" fill="#c0c0c0"/>
<rect x="658" y="488" width="3" height="1" fill="#c0c0c0"/>
<rect x="664" y="488" width="3" height="1" fill="#c0c0c0"/>
<rect x="670" y="488" width="3" height="1" fill="#c0c0c0"/>
<rect x="676" y="488" width="3" height="1" fill="#c0c0c0"/>
<rect x="682" y="488" width="3" height="1" fill="#c0c0c0"/>
<rect x="688" y="488" width="3" height="1" fill="#c0c0c0"/>
<rect x="694" y="488" width="3" height="1" fill="#c0c0c0"/>
<rect x="700" y="488" width="3" height="1" fill="#c0c0c0"/>
<rect x="706" y="488" width="3" height="1" fill="#c0c0c0"/>
<rect x="712" y="488" width="3" height="1" fill="#c0c0c0"/>
<rect x="718" y="488" width="3" height="1" fill="#c0c0c0"/>
<rect x="724" y="488" width="3" height="1" fill="#c0c0c0"/>
<rect x="730" y="488" width="3" height="1" fill="#c0c0c0"/>
<rect x="736" y="488" width="3" height="1" fill="#c0c0c0"/>
<rect x="742" y="488" width="3" height="1" fill="#c0c0c0"/>
<rect x="748" y="488" width="3" height="1" fill="#c0c0c0"/>
<rect x="754" y="488" width="3" height="1" fill="#c0c0c0"/>
<rect x="760" y="488" width="3" height="1" fill="#c0c0c0"/>
<rect x="766" y="488" width="3" height="1" fill="#c0c0c0"/>
<rect x="772" y="488" width="3" height="1" fill="#c0c0c0"/>
<rect x="778" y="488" width="3" height="1" fill="#c0c0c0"/>
<rect x="784" y="488" width="3" height="1" fill="#c0c0c0"/>
<rect x="790" y="488" width="3" height="1" fill="#c0c0c0"/>
<rect x="796" y="488" width="3" height="1" fill="#c0c0c0"/>
<rect x="802" y="488" width="3" height="1" fill="#c0c0c0"/>
<rect x="808" y="488" width="3" height="1" fill="#c0c0c0"/>
<rect x="814" y="488" width="3" height="1" fill="#c0c0c0"/>
<rect x="820" y="488" width="3" height="1" fill="#c0c0c0"/>
<rect x="826" y="488" width="3" height="1" fill="#c0c0c0"/>
<rect x="832" y="488" width="3" height="1" fill="#c0c0c0"/>
<rect x="838" y="488" width="3" height="1" fill="#c0c0c0"/>
<rect x="844" y="488" width="3" height="1" fill="#c0c0c0"/>
<rect x="850" y="488" width="3" height="1" fill="#c0c0c0"/>
<rect x="856" y="488" width="3" height="1" fill="#c0c0c0"/>
<rect x="862" y="488" width="3" height="1" fill="#c0c0c0"/>
<rect x="868" y="488" width="3" height="1" fill="#c0c0c0"/>
<rect x="874" y="488" width="3" height="1" fill="#c0c0c0"/>
<rect x="880" y="488" width="3" height="1" fill="#c0c0c0"/>
<rect x="886" y="488" width="3" height="1" fill="#c0c0c0"/>
<rect x="892" y="488" width="3" height="1" fill="#c0c0c0"/>
<rect x="898" y="488" width="3" height="1" fill="#c0c0c0"/>
<rect x="904" y="488" width="3" height="1" fill="#c0c0c0"/>
<rect x="910" y="488" width="3" height="1" fill="#c0c0c0"/>
<rect x="916" y="488" width="3" height="1" fill="#c0c0c0"/>
<rect x="922" y="488" width="3" height="1" fill="#c0c0c0"/>
<rect x="928" y="488" width="3" height="1" fill="#c0c0c0"/>
<rect x="934" y="488" width="3" height="1" fill="#c0c0c0"/>
<rect x="940" y="488" width="3" height="1" fill="#c0c0c0"/>
<rect x="946" y="488" width="3" height="1" fill="#c0c0c0"/>
<rect x="952" y="488" width="3" height="1" fill="#c0c0c0"/>
<rect x="958" y="488" width="3" height="1" fill="#c0c0c0"/>
<rect x="964" y="488" width="3" height="1" fill="#c0c0c0"/>
<rect x="970" y="488" width="3" height="1" fill="#c0c0c0"/>
<rect x="976" y="488" width="3" height="1" fill="#c0c0c0"/>
<rect x="982" y="488" width="3" height="1" fill="#c0c0c0"/>
<rect x="988" y="488" width="3" height="1" fill="#c0c0c0"/>
<rect x="994" y="488" width="3" height="1" fill="#c0c0c0"/>
<rect x="1000" y="488" width="3" height="1" fill="#c0c0c0"/>
<rect x="1006" y="488" width="3" height="1" fill="#c0c0c0"/>
<rect x="1012" y="488" width="3" height="1" fill="#c0c0c0"/>
<rect x="1018" y="488" width="3" height="1" fill="#c0c0c0"/>
<rect x="1024" y="488" width="3" height="1" fill="#c0c0c0"/>
<rect x="1030" y="488" width="3" height="1" fill="#c0c0c0"/>
<rect x="1036" y="488" width="3" height="1" fill="#c0c0c0"/>
<rect x="1042" y="488" width="3" height="1" fill="#c0c0c0"/>
<rect x="1048" y="488" width="3" height="1" fill="#c0c0c0"/>
<rect x="1054" y="488" width="3" height="1" fill="#c0c0c0"/>
<rect x="1060" y="488" width="3" height="1" fill="#c0c0c0"/>
<rect x="1066" y="488" width="3" height="1" fill="#c0c0c0"/>
<rect x="1072" y="488" width="3" height="1" fill="#c0c0c0"/>
<rect x="1078" y="488" width="3" height="1" fill="#c0c0c0"/>
<rect x="1084" y="488" width="3" height="1" fill="#c0c0c0"/>
<rect x="1090" y="488" width="3" height="1" fill="#c0c0c0"/>
<rect x="1096" y="488" width="3" height="1" fill="#c0c0c0"/>
<rect x="1102" y="488" width="3" height="1" fill="#c0c0c0"/>
<rect x="1108" y="488" width="3" height="1" fill="#c0c0c0"/>
<rect x="1114" y="488" width="3" height="1" fill="#c0c0c0"/>
<rect x="1120" y="488" width="3" height="1" fill="#c0c0c0"/>
<rect x="1126" y="488" width="3" height="1" fill="#c0c0c0"/>
<rect x="1132" y="488" width="3" height="1" fill="#c0c0c0"/>
<rect x="1138" y="488" width="3" height="1" fill="#c0c0c0"/>
<rect x="1144" y="488" width="3" height="1" fill="#c0c0c0"/>
</g>
<path d="M691 460.5h1M689 461.5h2M692 461.5h1M687 462.5h2M692 462.5h1M686 463.5h1M693 463.5h1M684 464.5h2M693 464.5h1M639 465.5h14M679 465.5h5M694 465.5h1M393 466.5h3M634 466.5h5M653 466.5h4M674 466.5h5M695 466.5h1M389 467.5h4M396 467.5h2M618 467.5h3M631 467.5h3M657 467.5h4M671 467.5h3M695 467.5h1M890 467.5h5M369 468.5h6M383 468.5h6M398 468.5h1M410 468.5h2M615 468.5h3M621 468.5h4M629 468.5h2M661 468.5h4M669 468.5h2M696 468.5h1M888 468.5h2M895 468.5h13M365 469.5h4M375 469.5h8M399 469.5h2M407 469.5h3M412 469.5h2M451 469.5h2M613 469.5h2M625 469.5h4M665 469.5h4M697 469.5h1M886 469.5h2M353 470.5h12M401 470.5h2M405 470.5h2M414 470.5h2M449 470.5h2M453 470.5h2M607 470.5h6M697 470.5h1M866 470.5h13M884 470.5h2M349 471.5h4M403 471.5h2M416 471.5h2M423 471.5h14M447 471.5h2M455 471.5h3M463 471.5h13M567 471.5h6M601 471.5h6M698 471.5h1M863 471.5h3M879 471.5h5M346 472.5h3M418 472.5h5M437 472.5h2M446 472.5h1M458 472.5h5M476 472.5h2M551 472.5h16M573 472.5h2M597 472.5h4M698 472.5h1M739 472.5h1M861 472.5h2M343 473.5h3M439 473.5h3M444 473.5h2M478 473.5h2M546 473.5h5M575 473.5h3M583 473.5h14M699 473.5h4M737 473.5h2M740 473.5h1M841 473.5h6M855 473.5h6M341 474.5h2M442 474.5h2M480 474.5h2M543 474.5h3M578 474.5h5M703 474.5h6M735 474.5h2M741 474.5h2M837 474.5h4M847 474.5h8M154 475.5h5M314 475.5h5M339 475.5h2M482 475.5h3M531 475.5h4M541 475.5h2M709 475.5h2M734 475.5h1M743 475.5h1M826 475.5h11M123 476.5h2M152 476.5h2M159 476.5h5M311 476.5h3M319 476.5h5M337 476.5h2M485 476.5h2M529 476.5h2M535 476.5h6M711 476.5h3M732 476.5h2M744 476.5h1M753 476.5h4M801 476.5h6M824 476.5h2M121 477.5h2M125 477.5h4M150 477.5h2M164 477.5h2M309 477.5h2M324 477.5h2M335 477.5h2M487 477.5h3M527 477.5h2M714 477.5h3M729 477.5h3M745 477.5h2M749 477.5h4M757 477.5h2M797 477.5h4M807 477.5h6M822 477.5h2M119 478.5h2M129 478.5h14M148 478.5h2M166 478.5h1M303 478.5h6M326 478.5h2M334 478.5h1M490 478.5h2M526 478.5h1M717 478.5h4M725 478.5h4M747 478.5h2M759 478.5h3M767 478.5h6M786 478.5h11M813 478.5h4M820 478.5h2M3 479.5h4M15 479.5h6M118 479.5h1M143 479.5h5M167 479.5h2M291 479.5h12M328 479.5h2M332 479.5h2M492 479.5h2M511 479.5h8M524 479.5h2M721 479.5h4M762 479.5h5M773 479.5h2M783 479.5h3M817 479.5h3M7 480.5h8M21 480.5h2M33 480.5h6M116 480.5h2M169 480.5h2M290 480.5h1M330 480.5h2M494 480.5h2M505 480.5h6M519 480.5h5M775 480.5h3M781 480.5h2M23 481.5h3M29 481.5h4M39 481.5h6M82 481.5h5M114 481.5h2M171 481.5h2M289 481.5h1M496 481.5h2M501 481.5h4M778 481.5h3M26 482.5h3M45 482.5h2M80 482.5h2M87 482.5h14M111 482.5h3M173 482.5h4M287 482.5h2M498 482.5h3M47 483.5h3M78 483.5h2M101 483.5h4M109 483.5h2M177 483.5h4M286 483.5h1M50 484.5h3M76 484.5h2M105 484.5h4M181 484.5h2M285 484.5h1M53 485.5h2M75 485.5h1M183 485.5h3M284 485.5h1M55 486.5h3M73 486.5h2M186 486.5h3M281 486.5h3M58 487.5h3M71 487.5h2M189 487.5h4M199 487.5h6M277 487.5h4M61 488.5h2M70 488.5h1M193 488.5h6M205 488.5h4M231 488.5h6M273 488.5h4M63 489.5h3M68 489.5h2M209 489.5h4M225 489.5h6M237 489.5h4M258 489.5h5M269 489.5h4M66 490.5h2M213 490.5h4M221 490.5h4M241 490.5h4M256 490.5h2M263 490.5h6M217 491.5h4M245 491.5h2M254 491.5h2M247 492.5h3M252 492.5h2M250 493.5h2" fill="none" stroke="#1e90ff" stroke-width="1" shape-rendering="crispEdges"/>
<g shape-rendering="crispEdges">
<rect x="2" y="24" width="1148" height="1" fill="#000"/>
<rect x="2" y="374" width="1148" height="1" fill="#000"/>
<rect x="2" y="24" width="1" height="351" fill="#000"/>
<rect x="1149" y="24" width="1" height="351" fill="#000"/>
<rect x="2" y="376" width="1148" height="1" fill="#000"/>
<rect x="2" y="440" width="1148" height="1" fill="#000"/>
<rect x="2" y="376" width="1" height="65" fill="#000"/>
<rect x="1149" y="376" width="1" height="65" fill="#000"/>
<rect x="2" y="442" width="1148" height="1" fill="#000"/>
<rect x="2" y="508" width="1148" height="1" fill="#000"/>
<rect x="2" y="442" width="1" height="67" fill="#000"/>
<rect x="1149" y="442" width="1" height="67" fill="#000"/>
<rect x="2" y="35" width="6" height="6" fill="#ff0000"/>
<rect x="4" y="37" width="2" height="2" fill="#fff"/>
<rect x="1143" y="35" width="6" height="6" fill="#ff0000"/>
<rect x="1145" y="37" width="2" height="2" fill="#fff"/>
<rect x="2" y="207" width="6" height="6" fill="#00ff00"/>
<rect x="4" y="209" width="2" height="2" fill="#fff"/>
<rect x="1143" y="207" width="6" height="6" fill="#00ff00"/>
<rect x="1145" y="209" width="2" height="2" fill="#fff"/>
<rect x="2" y="370" width="6" height="6" fill="#0000ff"/>
<rect x="4" y="372" width="2" height="2" fill="#fff"/>
<rect x="1143" y="370" width="6" height="6" fill="#0000ff"/>
<rect x="1145" y="372" width="2" height="2" fill="#fff"/>
<rect x="1150" y="41" width="2" height="1" fill="#000"/>
<rect x="1150" y="74" width="2" height="1" fill="#000"/>
<rect x="1150" y="107" width="2" height="1" fill="#000"/>
<rect x="1150" y="140" width="2" height="1" fill="#000"/>
<rect x="1150" y="173" width="2" height="1" fill="#000"/>
<rect x="1150" y="206" width="2" height="1" fill="#000"/>
<rect x="1150" y="239" width="2" height="1" fill="#000"/>
<rect x="1150" y="272" width="2" height="1" fill="#000"/>
<rect x="1150" y="305" width="2" height="1" fill="#000"/>
<rect x="1150" y="338" width="2" height="1" fill="#000"/>
<rect x="1150" y="400" width="2" height="1" fill="#000"/>
<rect x="1150" y="444" width="1" height="1" fill="#000"/>
<rect x="1150" y="507" width="1" height="1" fill="#000"/>
<rect x="3" y="509" width="1" height="3" fill="#000"/>
<rect x="67" y="509" width="1" height="3" fill="#000"/>
<rect x="131" y="509" width="1" height="3" fill="#000"/>
<rect x="195" y="509" width="1" height="3" fill="#000"/>
<rect x="259" y="509" width="1" height="3" fill="#000"/>
<rect x="323" y="509" width="1" height="3" fill="#000"/>
<rect x="387" y="509" width="1" height="3" fill="#000"/>
<rect x="451" y="509" width="1" height="3" fill="#000"/>
<rect x="515" y="509" width="1" height="3" fill="#000"/>
<rect x="579" y="509" width="1" height="3" fill="#000"/>
<rect x="643" y="509" width="1" height="3" fill="#000"/>
<rect x="707" y="509" width="1" height="3" fill="#000"/>
<rect x="771" y="509" width="1" height="3" fill="#000"/>
<rect x="835" y="509" width="1" height="3" fill="#000"/>
<rect x="899" y="509" width="1" height="3" fill="#000"/>
</g>
<polygon points="6,35.5 13.5,35.5 9.75,31" fill="#000"/>
</svg>
<div class="t ax" style="left:1155px;top:35px;">0.72480</div>
<div class="t ax" style="left:1155px;top:68px;">0.72195</div>
<div class="t ax" style="left:1155px;top:101px;">0.71910</div>
<div class="t ax" style="left:1155px;top:134px;">0.71620</div>
<div class="t ax" style="left:1155px;top:167px;">0.71335</div>
<div class="t ax" style="left:1155px;top:200px;">0.71045</div>
<div class="t ax" style="left:1155px;top:233px;">0.70760</div>
<div class="t ax" style="left:1155px;top:266px;">0.70470</div>
<div class="t ax" style="left:1155px;top:299px;">0.70185</div>
<div class="t ax" style="left:1155px;top:332px;">0.69895</div>
<div class="t ax" style="left:1154px;top:378px;">0.002841</div>
<div class="t ax" style="left:1154px;top:394px;">0.00</div>
<div class="t ax" style="left:1154px;top:428px;">-0.005032</div>
<div class="t ax" style="left:1153.5px;top:443.5px;">100</div>
<div class="t ax" style="left:1152.5px;top:457.5px;">70</div>
<div class="t ax" style="left:1152.5px;top:482.5px;">30</div>
<div class="t ax" style="left:1153.5px;top:495.5px;">0</div>
<div class="lab" style="top:32px;background:#ff0000">0.72508</div>
<div class="lab" style="top:97px;background:#000">0.71950</div>
<div class="lab" style="top:204px;background:#00ff00">0.71013</div>
<div class="lab" style="top:367px;background:#0000ff">0.69592</div>
<div class="t" style="left:18.5px;top:27.5px;letter-spacing:0.25px">AUDUSD-,H4</div>
<div class="t" style="left:83px;top:27.5px;font-size:9.2px">0.71959 0.71966 0.71949 0.71950</div>
<div class="t" style="left:7px;top:380.5px;">MACD(12,26,9) 0.001352 0.000500</div>
<div class="t" style="left:7px;top:446.5px;">RSI(14) 61.1250</div>
<div class="t" style="left:2px;top:512px;">21 Jan 2022</div>
<div class="t" style="left:66px;top:512px;">24 Jan 12:00</div>
<div class="t" style="left:130px;top:512px;">25 Jan 20:00</div>
<div class="t" style="left:194px;top:512px;">27 Jan 04:00</div>
<div class="t" style="left:258px;top:512px;">28 Jan 12:00</div>
<div class="t" style="left:322px;top:512px;">31 Jan 20:00</div>
<div class="t" style="left:386px;top:512px;">2 Feb 04:00</div>
<div class="t" style="left:450px;top:512px;">3 Feb 12:00</div>
<div class="t" style="left:514px;top:512px;">6 Feb 23:00</div>
<div class="t" style="left:578px;top:512px;">8 Feb 04:00</div>
<div class="t" style="left:642px;top:512px;">9 Feb 12:00</div>
<div class="t" style="left:706px;top:512px;">10 Feb 20:00</div>
<div class="t" style="left:770px;top:512px;">14 Feb 04:00</div>
<div class="t" style="left:834px;top:512px;">15 Feb 12:00</div>
<div class="t" style="left:898px;top:512px;">16 Feb 20:00</div>
<!-- one-click trade panel -->
<div style="left:6px;top:44px;width:219px;height:24px;background:#fff"></div>
<svg width="1191" height="555" viewBox="0 0 1191 555" style="position:absolute;left:0;top:0;font-family:'Liberation Sans',sans-serif">
<defs>
<linearGradient id="gT" gradientUnits="userSpaceOnUse" x1="0" y1="44" x2="0" y2="68"><stop offset="0" stop-color="#5858ff"/><stop offset="1" stop-color="#3e3eea"/></linearGradient>
<linearGradient id="gB" gradientUnits="userSpaceOnUse" x1="0" y1="68" x2="0" y2="101"><stop offset="0" stop-color="#3c3ce8"/><stop offset="0.5" stop-color="#1818cc"/><stop offset="1" stop-color="#0000b0"/></linearGradient>
</defs>
<g shape-rendering="crispEdges">
<rect x="6" y="44" width="52" height="24" fill="url(#gT)"/>
<rect x="173" y="44" width="52" height="24" fill="url(#gT)"/>
<rect x="6" y="68" width="109" height="33" fill="url(#gB)"/>
<rect x="117" y="68" width="108" height="33" fill="url(#gB)"/>
<path d="M6.5 101V44.5H57.5V68.5H114.5V101M6 100.5H115" fill="none" stroke="#0000a8" stroke-width="1"/>
<path d="M224.5 101V44.5H173.5V68.5H117.5V101M117 100.5H225" fill="none" stroke="#0000a8" stroke-width="1"/>
<rect x="10" y="67" width="44" height="1" fill="#0808a8"/><rect x="10" y="68" width="44" height="1" fill="#8888ff"/>
<rect x="177" y="67" width="44" height="1" fill="#0808a8"/><rect x="177" y="68" width="44" height="1" fill="#8888ff"/>
</g>
<g fill="#fff">
<text x="31.300" y="59.700" font-size="12" text-anchor="middle" letter-spacing="-0.7">SELL</text>
<text x="198" y="59.700" font-size="12.200" text-anchor="middle">BUY</text>
<text x="25" y="96" font-size="12.500" font-weight="bold">0.71</text>
<text x="135" y="96" font-size="12.500" font-weight="bold">0.71</text>
<text x="52" y="96.200" font-size="34.500" letter-spacing="-1.500" stroke="url(#gB)" stroke-width="0.600">95</text>
<text x="162.500" y="96.200" font-size="34.500" letter-spacing="-1.500" stroke="url(#gB)" stroke-width="0.600">97</text>
<text x="93" y="80.300" font-size="12.500" font-weight="bold">0</text>
<text x="204" y="80.300" font-size="12.500" font-weight="bold">1</text>
</g>
</svg>
<div style="left:60px;top:44px;width:109px;height:20px;border:1px solid #a6a8b2;background:#fff;box-sizing:content-box"></div>
<div style="left:62px;top:46px;width:18px;height:18px;background:linear-gradient(#f2f2f2,#e4e4e4 33%,#d4d4d4 34%,#d3d3d3)"></div>
<div style="left:151px;top:46px;width:18px;height:18px;background:linear-gradient(#f2f2f2,#e4e4e4 33%,#d4d4d4 34%,#d3d3d3)"></div>
<div style="left:81px;top:45px;width:1px;height:20px;background:#a6a8b2"></div>
<div style="left:149px;top:45px;width:1px;height:20px;background:#a6a8b2"></div>
<svg width="7" height="5" style="position:absolute;left:67px;top:52px" shape-rendering="crispEdges"><rect x="1" y="1" width="5" height="1" fill="#6878d8"/><rect x="2" y="2" width="3" height="1" fill="#4455b0"/><rect x="3" y="3" width="1" height="1" fill="#223388"/></svg>
<svg width="7" height="5" style="position:absolute;left:156px;top:52px" shape-rendering="crispEdges"><rect x="3" y="1" width="1" height="1" fill="#6878d8"/><rect x="2" y="2" width="3" height="1" fill="#4455b0"/><rect x="1" y="3" width="5" height="1" fill="#223388"/></svg>
<div style="left:100px;top:48px;width:46px;text-align:right;font-size:12.5px;line-height:15px;color:#000">3.00</div>
<!-- bottom tabs -->
<div style="left:0;top:529px;width:1191px;height:1px;background:#ebebeb"></div>
<div style="left:0;top:531px;width:1191px;height:1px;background:#000"></div>
<div id="tabbar">
<div class="tab" style="left:15.0px">USDX,Weekly</div>
<div class="tab" style="left:114.5px">EURUSD-,Daily</div>
<div class="tab" style="left:320.5px">USDCHF-,Daily</div>
<div class="tab" style="left:427.0px">USDCAD-,Daily</div>
<div class="tab" style="left:536.0px">USDCNH-,Daily</div>
<div class="tab" style="left:646.5px">XAUUSD-,Daily</div>
<div class="tab" style="left:754.5px">UKOil-,H4</div>
<div class="tab" style="left:835.5px">DJ30-,Daily</div>
<div class="tab" style="left:922.5px">UK100-,H1</div>
<div class="sep" style="left:104px"></div>
<div class="sep" style="left:416px"></div>
<div class="sep" style="left:524px"></div>
<div class="sep" style="left:636px"></div>
<div class="sep" style="left:744px"></div>
<div class="sep" style="left:824px"></div>
<div class="sep" style="left:912px"></div>
<div class="sep" style="left:997px"></div>
 <div style="left:0;top:19px;width:1191px;height:1px;background:#fafafa"></div>
 <div style="left:0;top:20px;width:1191px;height:3px;background:#f4f4f4"></div>
 <svg width="30" height="10" style="position:absolute;left:1162px;top:3px"><polygon points="2.6,5 6,1.7 6,8.3" fill="#8a8a8a"/><polygon points="25.3,5 21.9,1.7 21.9,8.3" fill="#8a8a8a"/></svg>
</div>
<div style="left:213px;top:529px;width:94px;height:20px;background:#fff"></div>
<div style="left:212px;top:531px;width:1px;height:19px;background:#000"></div>
<div style="left:307px;top:531px;width:1px;height:19px;background:#000"></div>
<div style="left:212px;top:549px;width:96px;height:1px;background:#000"></div>
<div style="left:213px;top:535px;width:94px;text-align:center;font-size:12.3px;line-height:15px;color:#000">AUDUSD-,H4</div>
</div>
</body></html>
